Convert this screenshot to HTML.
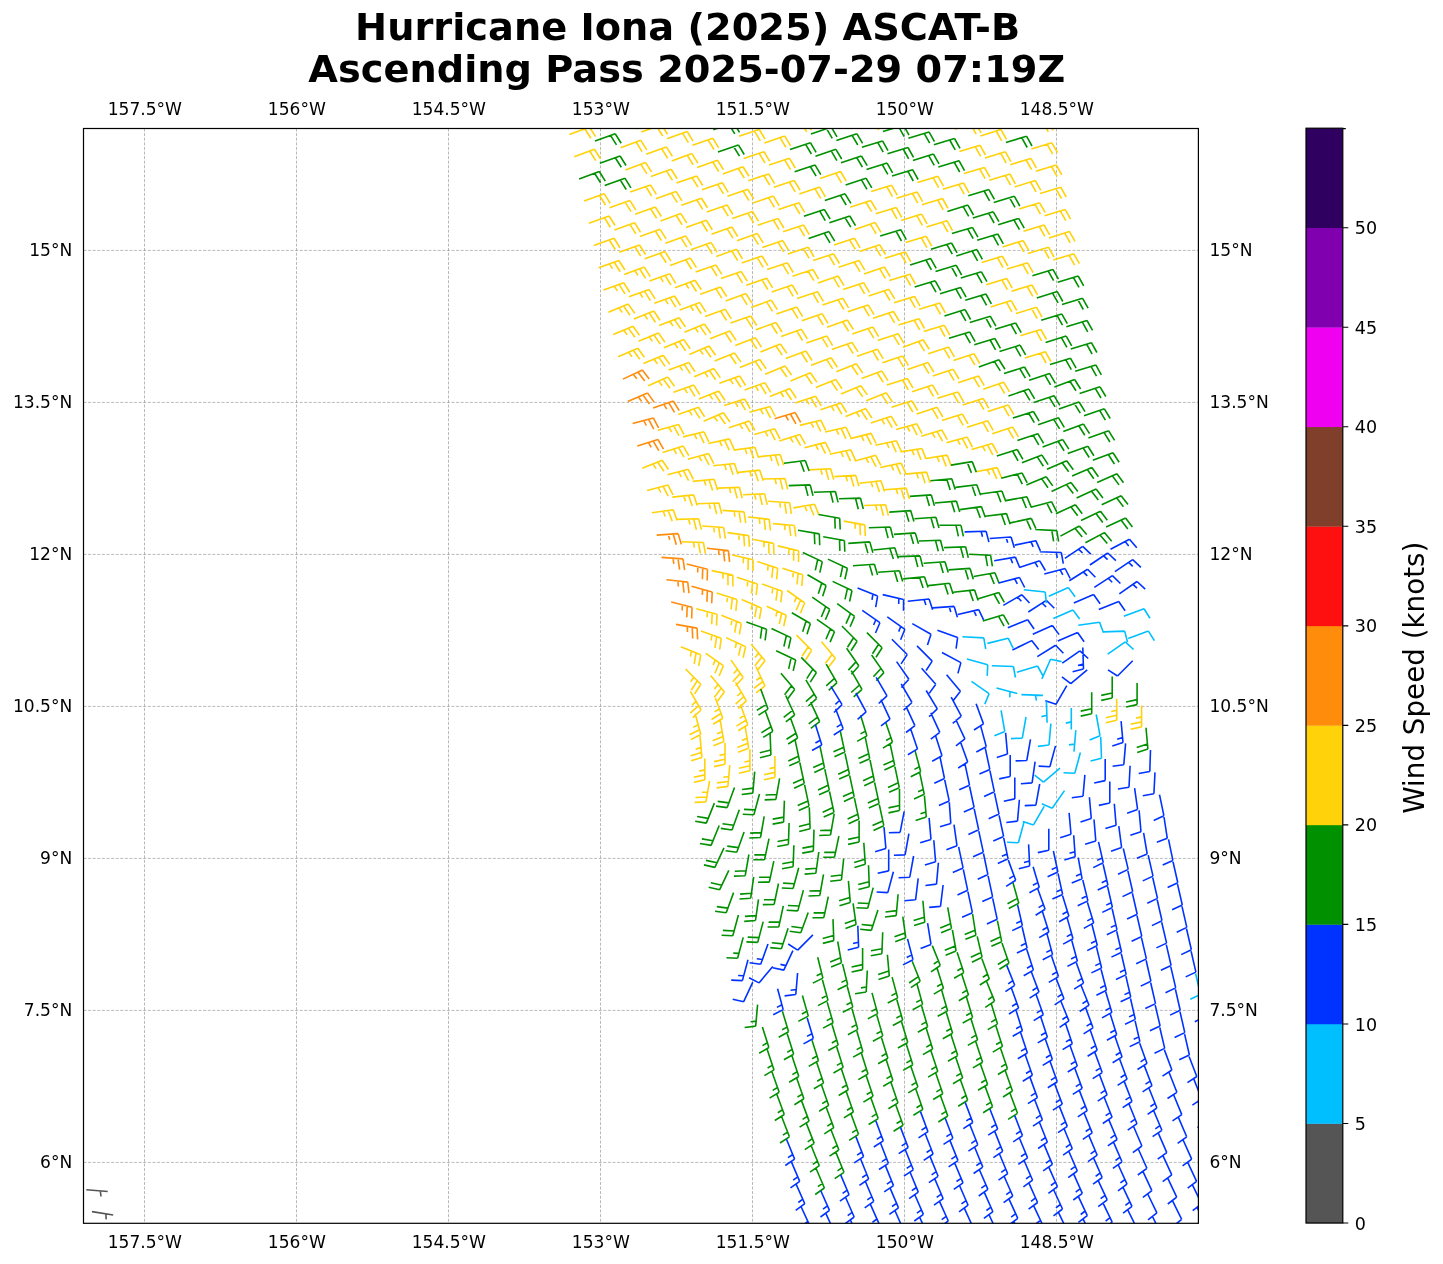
<!DOCTYPE html>
<html><head><meta charset="utf-8"><title>Hurricane Iona (2025) ASCAT-B</title>
<style>html,body{margin:0;padding:0;background:#fff;width:1443px;height:1264px;overflow:hidden}svg{display:block}</style>
</head><body>
<svg width="1443" height="1264" viewBox="0 0 1443 1264">
<rect width="1443" height="1264" fill="#fff"/>
<text transform="translate(687.6 39.96) scale(1.033 1)" font-family="'DejaVu Sans','Liberation Sans',sans-serif" font-weight="bold" font-size="37.1" text-anchor="middle" fill="#000">Hurricane Iona (2025) ASCAT-B</text>
<text transform="translate(686.8 81.85) scale(1.033 1)" font-family="'DejaVu Sans','Liberation Sans',sans-serif" font-weight="bold" font-size="37.1" text-anchor="middle" fill="#000">Ascending Pass 2025-07-29 07:19Z</text>
<defs><clipPath id="ax"><rect x="83.5" y="128.5" width="1114.9" height="1094.8"/></clipPath></defs>
<path d="M144.50 128.5V1223.3M296.50 128.5V1223.3M448.50 128.5V1223.3M600.50 128.5V1223.3M752.50 128.5V1223.3M904.50 128.5V1223.3M1056.50 128.5V1223.3M83.5 250.40H1198.4M83.5 402.40H1198.4M83.5 554.40H1198.4M83.5 706.40H1198.4M83.5 858.40H1198.4M83.5 1010.40H1198.4M83.5 1162.40H1198.4" stroke="#7a7a7a" stroke-opacity="0.7" stroke-width="0.75" stroke-dasharray="3 1.6" fill="none"/>
<g clip-path="url(#ax)" fill="none" stroke-width="1.6" stroke-linejoin="miter" stroke-linecap="butt">
<path stroke="#ffd20a" d="M1022.6 104.7L1043.2 98.4M1043.2 98.4L1048.7 108.3M1038.4 99.9L1043.9 109.7M925.0 100.5L945.5 94.2M945.5 94.2L951.0 104.0M940.7 95.6L946.2 105.4M950.5 107.1L971.1 100.8M971.1 100.8L976.6 110.6M966.3 102.2L971.8 112.1M976.0 113.7L996.6 107.4M996.6 107.4L1002.1 117.2M991.8 108.9L997.3 118.7M1001.5 120.3L1022.1 114.0M1022.1 114.0L1027.6 123.8M1017.3 115.5L1022.8 125.3M1027.0 126.9L1047.6 120.6M1047.6 120.6L1053.1 130.4M1042.8 122.1L1048.3 131.9M852.8 102.8L873.4 96.5M873.4 96.5L878.9 106.3M868.6 98.0L874.1 107.8M878.4 109.4L898.9 103.1M898.9 103.1L904.4 112.9M894.1 104.6L899.7 114.4M903.9 116.0L924.5 109.7M924.5 109.7L930.0 119.6M919.7 111.2L925.2 121.0M929.4 122.6L950.0 116.4M950.0 116.4L955.5 126.2M945.2 117.8L950.7 127.6M955.0 129.3L975.5 123.0M975.5 123.0L981.0 132.8M970.7 124.4L976.2 134.2M980.4 135.9L1001.0 129.6M1001.0 129.6L1006.5 139.4M996.2 131.0L1001.7 140.9M1031.4 149.1L1051.9 142.8M1051.9 142.8L1057.5 152.6M1047.2 144.3L1052.7 154.1M780.7 105.1L801.1 98.3M801.1 98.3L806.8 108.0M796.3 99.9L802.1 109.6M806.3 111.8L826.7 104.9M826.7 104.9L832.4 114.6M821.9 106.5L827.7 116.2M831.8 118.4L852.2 111.6M852.2 111.6L858.0 121.2M847.5 113.1L853.2 122.8M857.4 125.0L877.9 118.7M877.9 118.7L883.4 128.5M873.2 120.2L878.7 130.0M959.4 151.4L980.0 145.2M980.0 145.2L985.5 155.0M975.2 146.6L980.7 156.4M984.9 158.1L1005.4 151.8M1005.4 151.8L1010.9 161.6M1000.7 153.2L1006.2 163.1M1010.3 164.7L1030.9 158.4M1030.9 158.4L1036.4 168.2M1026.1 159.8L1031.6 169.7M1035.8 171.3L1056.3 165.0M1056.3 165.0L1061.8 174.8M1051.5 166.5L1057.1 176.3M683.0 100.9L703.2 93.7M703.2 93.7L709.2 103.2M698.5 95.3L704.5 104.9M708.6 107.5L728.8 100.1M728.8 100.1L734.8 109.7M724.1 101.9L730.1 111.4M734.2 114.1L754.6 107.3M754.6 107.3L760.3 117.0M749.8 108.9L755.6 118.5M759.8 120.7L780.2 113.9M780.2 113.9L785.9 123.6M775.4 115.5L781.2 125.2M785.3 127.3L805.7 120.5M805.7 120.5L811.5 130.2M801.0 122.1L806.7 131.8M963.9 173.6L984.4 167.4M984.4 167.4L989.9 177.2M979.6 168.8L985.2 178.6M989.3 180.3L1009.9 174.0M1009.9 174.0L1015.4 183.8M1005.1 175.4L1010.6 185.2M1014.7 186.9L1035.3 180.6M1035.3 180.6L1040.8 190.4M1030.5 182.0L1036.0 191.9M1040.1 193.5L1060.7 187.2M1060.7 187.2L1066.2 197.0M1055.9 188.7L1061.4 198.5M610.8 103.2L631.1 96.0M631.1 96.0L637.1 105.5M626.4 97.7L632.4 107.2M636.5 109.9L656.7 102.5M656.7 102.5L662.7 112.1M652.0 104.2L658.0 113.8M662.1 116.5L682.4 109.3M682.4 109.3L688.3 118.8M677.7 111.0L683.6 120.5M687.7 123.1L708.0 116.0M708.0 116.0L713.9 125.6M703.3 117.7L709.2 127.2M738.9 136.3L759.3 129.5M759.3 129.5L765.0 139.2M754.5 131.1L760.3 140.8M764.4 142.9L784.8 136.1M784.8 136.1L790.6 145.8M780.1 137.7L785.9 147.4M917.5 182.6L938.0 176.3M938.0 176.3L943.5 186.1M933.2 177.8L938.7 187.6M942.9 189.2L963.5 182.9M963.5 182.9L969.0 192.8M958.7 184.4L964.2 194.2M1019.1 209.1L1039.7 202.8M1039.7 202.8L1045.2 212.6M1034.9 204.2L1040.4 214.1M1044.5 215.7L1065.1 209.4M1065.1 209.4L1070.6 219.2M1060.3 210.9L1065.8 220.7M564.4 112.2L584.6 104.9M584.6 104.9L590.6 114.4M579.9 106.6L585.9 116.1M590.1 118.8L610.3 111.6M610.3 111.6L616.3 121.1M605.6 113.2L611.6 122.8M615.7 125.5L635.9 118.2M635.9 118.2L641.9 127.7M631.2 119.9L637.2 129.4M641.3 132.1L661.5 124.8M661.5 124.8L667.5 134.3M656.8 126.5L662.8 136.0M666.9 138.7L687.2 131.5M687.2 131.5L693.1 141.1M682.5 133.2L688.4 142.7M692.5 145.3L712.8 138.2M712.8 138.2L718.7 147.8M708.1 139.9L714.0 149.5M743.6 158.5L764.0 151.7M764.0 151.7L769.8 161.4M759.2 153.3L765.0 163.0M769.1 165.1L789.5 158.3M789.5 158.3L795.3 168.0M784.8 159.9L790.5 169.6M820.1 178.4L840.5 171.5M840.5 171.5L846.3 181.2M835.8 173.1L841.5 182.8M871.1 191.6L891.6 185.3M891.6 185.3L897.2 195.1M886.9 186.8L892.4 196.6M896.5 198.2L917.1 191.9M917.1 191.9L922.6 201.7M912.3 193.4L917.8 203.2M922.0 204.8L942.5 198.5M942.5 198.5L948.0 208.4M937.7 200.0L943.3 209.8M1023.5 231.3L1044.1 225.0M1044.1 225.0L1049.6 234.8M1039.3 226.5L1044.8 236.3M1048.9 237.9L1069.5 231.6M1069.5 231.6L1075.0 241.4M1064.7 233.1L1070.2 242.9M569.3 134.4L589.5 127.1M589.5 127.1L595.6 136.6M584.8 128.8L590.9 138.3M620.6 147.7L640.8 140.3M640.8 140.3L646.8 149.9M636.1 142.0L642.1 151.6M646.1 154.3L666.3 146.9M666.3 146.9L672.4 156.4M661.6 148.6L667.7 158.2M671.7 160.9L691.9 153.6M691.9 153.6L697.9 163.1M687.2 155.3L693.2 164.8M697.2 167.5L717.5 160.3M717.5 160.3L723.5 169.8M712.8 162.0L718.7 171.5M722.8 174.1L743.0 166.8M743.0 166.8L749.0 176.3M738.3 168.5L744.3 178.0M748.3 180.7L768.7 173.9M768.7 173.9L774.5 183.6M763.9 175.5L769.7 185.2M773.8 187.3L794.2 180.5M794.2 180.5L800.0 190.2M789.4 182.1L795.2 191.8M799.3 194.0L819.7 187.1M819.7 187.1L825.4 196.8M814.9 188.7L820.7 198.4M850.2 207.2L870.6 200.4M870.6 200.4L876.4 210.0M865.9 202.0L871.6 211.6M875.6 213.8L896.2 207.5M896.2 207.5L901.7 217.3M891.4 209.0L896.9 218.8M901.1 220.4L921.6 214.1M921.6 214.1L927.1 223.9M916.8 215.6L922.4 225.4M926.5 227.0L947.0 220.7M947.0 220.7L952.5 230.6M942.3 222.2L947.8 232.0M1002.6 246.9L1023.2 240.6M1023.2 240.6L1028.7 250.4M1018.4 242.0L1023.9 251.9M1027.9 253.5L1048.5 247.2M1048.5 247.2L1054.0 257.0M1043.7 248.7L1049.2 258.5M1053.3 260.1L1073.8 253.8M1073.8 253.8L1079.4 263.6M1069.1 255.3L1074.6 265.1M574.2 156.7L594.4 149.3M594.4 149.3L600.5 158.8M589.7 151.0L595.8 160.6M625.4 169.9L645.6 162.6M645.6 162.6L651.6 172.2M640.9 164.3L646.9 173.9M650.9 176.5L671.2 169.2M671.2 169.2L677.2 178.7M666.5 170.9L672.5 180.4M676.5 183.1L696.7 175.9M696.7 175.9L702.7 185.5M692.0 177.6L698.0 187.2M702.0 189.7L722.3 182.7M722.3 182.7L728.2 192.3M717.6 184.3L723.5 193.9M727.5 196.3L747.8 189.3M747.8 189.3L753.7 198.9M743.1 191.0L749.0 200.6M753.0 203.0L773.4 196.1M773.4 196.1L779.2 205.8M768.6 197.7L774.4 207.4M778.5 209.6L798.9 202.7M798.9 202.7L804.6 212.4M794.1 204.3L799.9 214.0M854.8 229.4L875.2 222.6M875.2 222.6L881.0 232.3M870.4 224.2L876.2 233.8M905.6 242.6L926.2 236.3M926.2 236.3L931.7 246.2M921.4 237.8L926.9 247.6M981.7 262.5L1002.3 256.2M1002.3 256.2L1007.8 266.0M997.5 257.7L1003.0 267.5M1007.0 269.1L1027.6 262.8M1027.6 262.8L1033.1 272.6M1022.8 264.3L1028.3 274.1M630.2 192.1L650.5 184.9M650.5 184.9L656.4 194.4M645.8 186.5L651.7 196.1M655.8 198.7L676.0 191.4M676.0 191.4L682.0 200.9M671.3 193.1L677.3 202.6M681.3 205.3L701.5 198.2M701.5 198.2L707.5 207.7M696.8 199.8L702.7 209.4M706.8 211.9L727.1 204.9M727.1 204.9L732.9 214.5M722.3 206.5L728.2 216.1M732.2 218.6L752.6 211.6M752.6 211.6L758.4 221.2M747.8 213.2L753.7 222.8M757.7 225.2L778.1 218.4M778.1 218.4L783.8 228.0M773.3 219.9L779.1 229.6M783.1 231.8L803.5 225.0M803.5 225.0L809.3 234.6M798.8 226.6L804.6 236.2M834.0 245.0L854.4 238.2M854.4 238.2L860.1 247.9M849.6 239.8L855.4 249.4M859.4 251.6L879.8 244.8M879.8 244.8L885.5 254.5M875.0 246.4L880.8 256.1M884.8 258.2L905.3 252.0M905.3 252.0L910.8 261.8M900.5 253.4L906.1 263.2M986.2 284.7L1006.7 278.4M1006.7 278.4L1012.2 288.2M1001.9 279.9L1007.4 289.7M1011.5 291.3L1032.0 285.0M1032.0 285.0L1037.5 294.8M1027.2 286.5L1032.8 296.3M584.0 201.1L604.2 193.7M604.2 193.7L610.2 203.3M599.5 195.5L605.5 205.0M609.5 207.7L629.8 200.4M629.8 200.4L635.8 209.9M625.1 202.1L631.1 211.6M635.1 214.3L655.3 207.0M655.3 207.0L661.3 216.5M650.6 208.7L656.6 218.2M660.6 220.9L680.8 213.6M680.8 213.6L686.8 223.1M676.1 215.3L682.1 224.8M686.0 227.6L706.3 220.3M706.3 220.3L712.3 229.8M701.6 222.0L707.5 231.5M711.5 234.2L731.8 227.0M731.8 227.0L737.7 236.5M727.0 228.6L733.0 238.2M737.0 240.8L757.2 233.4M757.2 233.4L763.2 242.9M752.5 235.1L758.5 244.7M762.4 247.4L782.8 240.6M782.8 240.6L788.5 250.2M778.0 242.2L783.8 251.8M787.8 254.0L808.2 247.2M808.2 247.2L814.0 256.9M803.5 248.8L809.2 258.4M813.2 260.6L833.6 253.8M833.6 253.8L839.4 263.5M828.9 255.4L834.6 265.1M838.6 267.2L859.0 260.4M859.0 260.4L864.8 270.1M854.2 262.0L860.0 271.7M864.0 273.9L884.4 267.0M884.4 267.0L890.1 276.7M879.6 268.6L885.4 278.3M889.3 280.5L909.9 274.2M909.9 274.2L915.4 284.0M905.1 275.6L910.6 285.5M990.6 306.9L1011.2 300.6M1011.2 300.6L1016.7 310.5M1006.4 302.1L1011.9 311.9M1015.9 313.5L1036.5 307.3M1036.5 307.3L1042.0 317.1M1031.7 308.7L1037.2 318.5M588.9 223.3L609.1 216.0M609.1 216.0L615.1 225.5M604.4 217.7L610.4 227.2M614.4 229.9L634.6 222.7M634.6 222.7L640.6 232.3M629.9 224.4L635.9 233.9M639.9 236.6L660.1 229.3M660.1 229.3L666.1 238.9M655.4 231.0L661.4 240.6M665.4 243.2L685.6 235.9M685.6 235.9L691.6 245.4M680.9 237.6L686.9 247.1M690.8 249.8L711.1 242.6M711.1 242.6L717.0 252.2M706.4 244.3L712.3 253.9M716.2 256.4L736.6 249.3M736.6 249.3L742.4 258.9M731.8 251.0L737.7 260.6M741.7 263.0L762.0 256.0M762.0 256.0L767.8 265.6M757.3 257.6L763.1 267.3M767.1 269.6L787.5 262.8M787.5 262.8L793.2 272.5M782.7 264.4L788.5 274.1M792.5 276.2L812.9 269.4M812.9 269.4L818.6 279.1M808.1 271.0L813.9 280.7M817.8 282.9L838.2 276.0M838.2 276.0L844.0 285.7M833.5 277.6L839.3 287.3M843.2 289.5L863.6 282.7M863.6 282.7L869.4 292.3M858.9 284.2L864.6 293.9M868.6 296.1L888.9 289.3M888.9 289.3L894.7 298.9M884.2 290.9L890.0 300.5M893.9 302.7L914.5 296.4M914.5 296.4L920.0 306.2M909.7 297.9L915.2 307.7M919.2 309.3L939.8 303.0M939.8 303.0L945.3 312.8M935.0 304.5L940.5 314.3M1020.3 335.8L1040.9 329.5M1040.9 329.5L1046.4 339.3M1036.1 330.9L1041.6 340.8M593.8 245.6L614.0 238.3M614.0 238.3L620.0 247.8M609.3 240.0L615.3 249.5M619.2 252.2L639.5 245.0M639.5 245.0L645.5 254.5M634.8 246.6L640.7 256.2M644.7 258.8L665.0 251.6M665.0 251.6L670.9 261.1M660.2 253.3L666.2 262.8M670.1 265.4L690.4 258.1M690.4 258.1L696.4 267.6M685.7 259.8L691.7 269.3M695.6 272.0L715.8 264.9M715.8 264.9L721.8 274.4M711.1 266.5L717.1 276.1M721.0 278.6L741.3 271.6M741.3 271.6L747.2 281.2M736.6 273.2L742.5 282.8M746.4 285.3L766.7 278.2M766.7 278.2L772.6 287.8M762.0 279.9L767.8 289.5M771.8 291.9L792.2 285.0M792.2 285.0L797.9 294.7M787.4 286.6L793.2 296.3M797.1 298.5L817.5 291.7M817.5 291.7L823.3 301.3M812.8 293.2L818.5 302.9M822.5 305.1L842.9 298.3M842.9 298.3L848.6 307.9M838.1 299.9L843.9 309.5M847.8 311.7L868.2 304.9M868.2 304.9L874.0 314.6M863.5 306.5L869.2 316.1M873.1 318.3L893.5 311.5M893.5 311.5L899.3 321.2M888.8 313.1L894.6 322.8M898.5 324.9L919.0 318.7M919.0 318.7L924.5 328.5M914.2 320.1L919.7 329.9M923.7 331.6L944.3 325.3M944.3 325.3L949.8 335.1M939.5 326.7L945.0 336.5M1024.8 358.0L1045.3 351.7M1045.3 351.7L1050.9 361.5M1040.6 353.2L1046.1 363.0M598.6 267.8L618.9 260.5M618.9 260.5L624.9 270.0M614.2 262.2L620.2 271.7M609.5 263.9L612.5 268.6M624.1 274.4L644.3 267.1M644.3 267.1L650.3 276.6M639.6 268.8L645.6 278.3M634.9 270.5L637.9 275.3M649.5 281.0L669.7 273.7M669.7 273.7L675.7 283.3M665.0 275.4L671.0 285.0M660.3 277.1L663.3 281.9M674.9 287.7L695.1 280.3M695.1 280.3L701.2 289.8M690.4 282.0L696.5 291.5M685.7 283.7L688.8 288.5M700.3 294.3L720.6 287.0M720.6 287.0L726.6 296.5M715.9 288.7L721.8 298.2M725.7 300.9L746.0 293.6M746.0 293.6L751.9 303.2M741.3 295.3L747.2 304.9M751.1 307.5L771.3 300.1M771.3 300.1L777.3 309.7M766.6 301.9L772.6 311.4M776.4 314.1L796.8 307.1M796.8 307.1L802.6 316.7M792.0 308.7L797.9 318.3M801.8 320.7L822.1 313.7M822.1 313.7L828.0 323.3M817.4 315.4L823.2 325.0M827.1 327.3L847.3 320.0M847.3 320.0L853.3 329.5M842.6 321.7L848.6 331.2M852.4 334.0L872.8 327.0M872.8 327.0L878.6 336.6M868.0 328.6L873.9 338.2M877.7 340.6L898.1 333.7M898.1 333.7L903.9 343.3M893.4 335.3L899.2 344.9M903.0 347.2L923.2 339.8M923.2 339.8L929.2 349.3M918.5 341.5L924.5 351.1M928.3 353.8L948.7 347.1M948.7 347.1L954.4 356.8M944.0 348.7L949.7 358.4M953.5 360.4L974.0 353.7M974.0 353.7L979.7 363.5M969.2 355.3L974.9 365.0M603.5 290.1L623.7 282.7M623.7 282.7L629.7 292.2M619.0 284.4L625.0 293.9M614.3 286.1L617.3 290.9M628.9 296.7L649.1 289.4M649.1 289.4L655.1 298.9M644.4 291.1L650.4 300.6M639.7 292.8L642.7 297.5M654.3 303.3L674.6 296.0M674.6 296.0L680.5 305.5M669.9 297.7L675.8 307.2M665.2 299.4L668.1 304.2M679.7 309.9L699.9 302.6M699.9 302.6L705.9 312.1M695.2 304.3L701.2 313.8M690.5 306.0L693.5 310.7M705.1 316.5L725.3 309.3M725.3 309.3L731.3 318.9M720.6 311.0L726.6 320.5M730.5 323.1L750.7 316.0M750.7 316.0L756.7 325.5M746.0 317.6L751.9 327.2M755.8 329.7L776.0 322.5M776.0 322.5L782.0 332.0M771.3 324.2L777.3 333.7M781.1 336.4L801.4 329.3M801.4 329.3L807.3 338.9M796.7 330.9L802.6 340.5M806.4 343.0L826.8 335.9M826.8 335.9L832.6 345.6M822.0 337.6L827.9 347.2M831.8 349.6L852.0 342.4M852.0 342.4L858.0 351.9M847.3 344.1L853.2 353.6M857.0 356.2L877.4 349.2M877.4 349.2L883.2 358.9M872.7 350.9L878.5 360.5M882.3 362.8L902.7 356.0M902.7 356.0L908.5 365.6M898.0 357.6L903.7 367.2M907.6 369.4L927.9 362.4M927.9 362.4L933.8 372.0M923.2 364.0L929.0 373.6M932.8 376.0L953.2 369.3M953.2 369.3L959.0 379.0M948.5 370.9L954.2 380.6M958.1 382.7L978.5 375.9M978.5 375.9L984.2 385.6M973.7 377.5L979.4 387.2M983.3 389.3L1003.6 382.2M1003.6 382.2L1009.5 391.8M998.9 383.9L1004.7 393.5M608.4 312.3L628.2 304.1M628.2 304.1L634.7 313.3M623.6 306.0L630.0 315.2M619.0 307.9L622.2 312.5M633.8 318.9L653.8 311.0M653.8 311.0L660.0 320.3M649.1 312.8L655.4 322.2M644.5 314.7L647.6 319.4M659.1 325.5L679.2 317.7M679.2 317.7L685.4 327.0M674.5 319.5L680.8 328.9M669.8 321.3L673.0 326.0M684.5 332.2L704.4 324.0M704.4 324.0L710.8 333.2M699.8 325.9L706.2 335.1M695.1 327.8L698.3 332.4M709.9 338.8L729.9 331.0M729.9 331.0L736.1 340.4M725.2 332.8L731.4 342.2M735.2 345.4L755.3 337.7M755.3 337.7L761.4 347.1M750.6 339.5L756.8 348.9M760.5 352.0L780.4 343.9M780.4 343.9L786.8 353.2M775.8 345.8L782.2 355.1M785.8 358.6L805.9 351.0M805.9 351.0L812.1 360.5M801.3 352.8L807.4 362.2M811.1 365.2L831.2 357.7M831.2 357.7L837.3 367.2M826.6 359.4L832.7 368.9M836.4 371.8L856.3 363.8M856.3 363.8L862.7 373.1M851.7 365.7L858.0 375.0M861.6 378.5L881.9 371.1M881.9 371.1L887.9 380.6M877.2 372.8L883.2 382.3M886.9 385.1L907.4 378.5M907.4 378.5L913.0 388.2M902.6 380.0L908.3 389.8M912.1 391.7L932.6 385.1M932.6 385.1L938.3 394.8M927.8 386.6L933.5 396.4M937.4 398.3L957.9 391.9M957.9 391.9L963.5 401.6M953.1 393.4L958.7 403.1M962.6 404.9L983.1 398.4M983.1 398.4L988.7 408.2M978.3 399.9L983.9 409.7M987.8 411.5L1008.2 404.9M1008.2 404.9L1013.9 414.6M1003.5 406.4L1009.1 416.2M613.2 334.6L633.0 326.2M633.0 326.2L639.5 335.4M628.4 328.1L634.9 337.3M623.8 330.1L627.1 334.7M638.6 341.2L658.4 332.9M658.4 332.9L664.9 342.2M653.8 334.8L660.3 344.1M649.2 336.8L652.4 341.4M663.9 347.8L683.8 339.6M683.8 339.6L690.2 348.8M679.2 341.5L685.6 350.7M674.6 343.4L677.8 348.0M689.3 354.4L709.1 346.0M709.1 346.0L715.6 355.2M704.5 348.0L711.0 357.2M699.9 349.9L703.1 354.5M714.6 361.0L734.5 352.9M734.5 352.9L740.9 362.1M729.9 354.8L736.3 364.0M739.9 367.6L759.8 359.5M759.8 359.5L766.2 368.8M755.2 361.4L761.6 370.7M765.2 374.3L785.0 365.9M785.0 365.9L791.5 375.0M780.4 367.8L786.9 377.0M790.5 380.9L810.4 372.8M810.4 372.8L816.8 382.1M805.8 374.7L812.1 384.0M815.8 387.5L835.7 379.4M835.7 379.4L842.0 388.7M831.1 381.3L837.4 390.6M841.0 394.1L860.8 385.7M860.8 385.7L867.3 394.9M856.2 387.6L862.7 396.8M866.3 400.7L886.2 392.8M886.2 392.8L892.5 402.1M881.6 394.6L887.9 403.9M891.5 407.3L912.0 400.8M912.0 400.8L917.6 410.5M907.2 402.3L912.8 412.0M916.7 413.9L937.1 407.3M937.1 407.3L942.8 417.0M932.4 408.8L938.1 418.6M941.9 420.5L962.4 414.1M962.4 414.1L968.0 423.8M957.6 415.6L963.2 425.3M967.1 427.2L987.6 420.7M987.6 420.7L993.2 430.4M982.8 422.2L988.4 431.9M992.3 433.8L1012.7 427.1M1012.7 427.1L1018.4 436.9M1007.9 428.7L1013.6 438.4M618.1 356.8L637.8 348.2M637.8 348.2L644.4 357.3M633.2 350.2L639.8 359.3M628.6 352.2L631.9 356.8M643.4 363.4L663.3 355.2M663.3 355.2L669.7 364.4M658.7 357.1L665.1 366.4M654.0 359.0L657.3 363.7M668.7 370.1L688.8 362.4M688.8 362.4L695.0 371.8M684.1 364.1L690.3 373.6M679.5 365.9L682.6 370.6M694.1 376.7L714.0 368.6M714.0 368.6L720.3 377.9M709.3 370.5L715.7 379.8M704.7 372.4L707.9 377.0M719.4 383.3L739.6 375.9M739.6 375.9L745.6 385.5M734.9 377.7L740.9 387.2M730.2 379.4L733.2 384.1M744.6 389.9L764.9 382.7M764.9 382.7L770.8 392.3M760.2 384.4L766.1 394.0M755.5 386.1L758.4 390.9M769.9 396.5L789.9 388.6M789.9 388.6L796.2 398.0M785.3 390.5L791.5 399.8M780.6 392.3L783.7 397.0M795.2 403.1L815.5 396.2M815.5 396.2L821.3 405.8M810.8 397.8L816.6 407.4M806.0 399.4L809.0 404.2M820.4 409.7L840.8 402.9M840.8 402.9L846.6 412.5M836.1 404.5L841.8 414.1M831.3 406.1L834.2 410.9M845.6 416.4L865.7 408.6M865.7 408.6L871.9 418.0M861.0 410.4L867.2 419.8M856.4 412.2L859.5 416.9M870.9 423.0L891.3 416.3M891.3 416.3L897.0 426.0M886.5 417.9L892.2 427.6M881.8 419.4L884.6 424.3M896.1 429.6L916.8 423.8M916.8 423.8L922.0 433.7M912.0 425.1L917.2 435.1M907.1 426.5L909.8 431.5M921.3 436.2L941.8 429.9M941.8 429.9L947.3 439.7M937.0 431.4L942.5 441.2M932.3 432.8L935.0 437.7M946.4 442.8L967.2 437.1M967.2 437.1L972.4 447.1M962.3 438.4L967.6 448.4M957.5 439.8L960.1 444.7M971.6 449.4L992.3 443.5M992.3 443.5L997.6 453.4M987.5 444.9L992.8 454.8M982.7 446.3L985.3 451.2M648.2 385.7L667.9 377.1M667.9 377.1L674.5 386.2M663.4 379.1L670.0 388.2M658.8 381.1L662.1 385.7M673.5 392.3L693.8 385.1M693.8 385.1L699.7 394.6M689.1 386.8L695.0 396.3M684.4 388.4L687.3 393.2M698.8 398.9L718.8 391.1M718.8 391.1L725.1 400.5M714.2 392.9L720.4 402.3M709.5 394.8L712.7 399.4M724.1 405.6L744.6 399.0M744.6 399.0L750.2 408.7M739.8 400.5L745.5 410.2M735.0 402.0L737.9 406.9M749.4 412.2L770.1 406.5M770.1 406.5L775.3 416.5M765.3 407.9L770.5 417.8M760.5 409.2L763.1 414.2M799.8 425.4L820.7 420.2M820.7 420.2L825.7 430.3M815.9 421.4L820.8 431.5M811.0 422.6L813.5 427.7M825.1 432.0L846.0 427.3M846.0 427.3L850.8 437.5M841.2 428.4L845.9 438.6M836.3 429.5L838.7 434.6M850.3 438.6L871.1 433.4M871.1 433.4L876.1 443.5M866.3 434.6L871.3 444.7M861.4 435.8L863.9 440.9M875.5 445.2L896.5 440.8M896.5 440.8L901.1 451.0M891.6 441.8L896.2 452.1M886.7 442.8L889.0 448.0M900.6 451.9L921.9 448.5M921.9 448.5L926.0 458.9M916.9 449.2L921.0 459.7M912.0 450.0L914.1 455.3M925.8 458.5L947.1 455.1M947.1 455.1L951.1 465.6M942.1 455.9L946.2 466.4M937.2 456.7L939.2 461.9M976.1 471.7L997.2 467.6M997.2 467.6L1001.7 478.0M992.3 468.6L996.8 478.9M987.4 469.5L989.6 474.7M678.3 414.6L698.5 407.2M698.5 407.2L704.6 416.7M693.8 408.9L699.9 418.4M689.1 410.6L692.1 415.4M703.6 421.2L723.4 412.8M723.4 412.8L729.9 422.0M718.8 414.8L725.3 424.0M714.2 416.7L717.4 421.3M728.8 427.8L749.2 420.9M749.2 420.9L755.0 430.5M744.5 422.5L750.3 432.1M739.7 424.1L742.6 428.9M754.1 434.4L774.8 428.8M774.8 428.8L780.0 438.8M770.0 430.1L775.2 440.1M765.2 431.4L767.8 436.4M779.3 441.1L799.8 434.4M799.8 434.4L805.4 444.1M795.0 436.0L800.7 445.7M790.2 437.5L793.1 442.4M804.5 447.7L825.4 442.4M825.4 442.4L830.4 452.5M820.5 443.7L825.5 453.7M815.7 444.9L818.2 449.9M829.7 454.3L850.8 449.8M850.8 449.8L855.4 460.1M845.9 450.9L850.5 461.1M841.0 451.9L843.3 457.0M854.9 460.9L875.7 455.3M875.7 455.3L880.8 465.3M870.8 456.6L876.0 466.6M866.0 457.9L868.6 462.9M880.1 467.5L901.1 463.1M901.1 463.1L905.7 473.4M896.2 464.1L900.8 474.4M891.3 465.2L893.6 470.3M905.2 474.1L926.6 472.1M926.6 472.1L930.1 482.8M921.7 472.6L925.1 483.3M916.7 473.0L918.4 478.4M657.9 430.3L678.6 424.4M678.6 424.4L683.9 434.3M673.7 425.8L679.0 435.7M668.9 427.1L671.6 432.1M683.1 436.9L704.0 431.8M704.0 431.8L708.9 442.0M699.2 433.0L704.1 443.1M694.3 434.2L696.8 439.2M708.4 443.5L729.4 438.9M729.4 438.9L734.1 449.1M724.5 440.0L729.2 450.2M719.6 441.0L721.9 446.1M733.6 450.1L754.9 447.3M754.9 447.3L758.7 457.9M750.0 448.0L753.7 458.6M745.0 448.6L746.9 453.9M758.8 456.7L780.2 454.5M780.2 454.5L783.7 465.2M775.2 455.0L778.7 465.7M770.2 455.5L772.0 460.9M809.2 469.9L830.7 468.7M830.7 468.7L833.7 479.6M825.7 469.0L828.7 479.9M820.7 469.3L822.2 474.7M834.4 476.6L855.8 475.4M855.8 475.4L858.8 486.3M850.8 475.7L853.8 486.6M845.9 476.0L847.3 481.4M859.5 483.2L880.9 480.8M880.9 480.8L884.5 491.5M875.9 481.4L879.5 492.0M871.0 481.9L872.8 487.2M884.7 489.8L906.1 488.1M906.1 488.1L909.4 498.9M901.1 488.5L904.4 499.3M896.1 488.9L897.8 494.3M662.7 452.5L683.1 445.9M683.1 445.9L688.8 455.6M678.4 447.4L684.0 457.2M673.6 449.0L676.5 453.9M687.9 459.2L708.7 453.6M708.7 453.6L713.8 463.6M703.8 454.9L709.0 464.9M699.0 456.2L701.6 461.2M713.1 465.8L734.5 463.5M734.5 463.5L738.0 474.2M729.5 464.0L733.1 474.7M724.6 464.6L726.3 469.9M738.3 472.4L759.7 470.1M759.7 470.1L763.2 480.8M754.7 470.7L758.3 481.3M749.8 471.2L751.5 476.5M763.5 479.0L785.0 478.5M785.0 478.5L787.7 489.4M780.0 478.6L782.7 489.5M775.0 478.7L776.3 484.2M864.2 505.5L885.6 504.7M885.6 504.7L888.4 515.6M880.7 504.9L883.4 515.8M875.7 505.1L877.0 510.5M642.3 468.2L662.2 460.2M662.2 460.2L668.5 469.5M657.6 462.0L663.9 471.3M652.9 463.9L656.1 468.6M667.5 474.8L688.2 469.3M688.2 469.3L693.4 479.3M683.4 470.6L688.6 480.6M678.6 471.9L681.2 476.9M692.7 481.4L714.1 479.2M714.1 479.2L717.6 489.9M709.1 479.7L712.6 490.4M704.1 480.2L705.9 485.6M717.9 488.1L739.4 487.3M739.4 487.3L742.2 498.2M734.4 487.5L737.2 498.4M729.4 487.7L730.8 493.1M743.1 494.7L764.6 493.9M764.6 493.9L767.3 504.8M759.6 494.1L762.3 505.0M754.6 494.3L755.9 499.7M768.2 501.3L789.7 502.8M789.7 502.8L791.3 513.9M784.7 502.4L786.3 513.6M779.7 502.1L780.5 507.7M793.4 507.9L814.6 504.2M814.6 504.2L818.8 514.6M809.6 505.0L813.9 515.5M804.7 505.9L806.9 511.1M843.7 521.1L864.8 524.9M864.8 524.9L865.3 536.1M859.9 524.0L860.4 535.2M855.0 523.1L855.2 528.8M647.1 490.5L667.9 484.9M667.9 484.9L673.0 494.9M663.0 486.2L668.2 496.2M658.2 487.5L660.8 492.5M672.3 497.1L693.7 494.9M693.7 494.9L697.2 505.6M688.7 495.4L692.2 506.1M683.7 495.9L685.5 501.3M697.5 503.7L719.0 503.0M719.0 503.0L721.7 513.9M714.0 503.2L716.7 514.1M709.0 503.3L710.4 508.8M722.6 510.4L744.1 511.9M744.1 511.9L745.7 523.0M739.1 511.5L740.7 522.6M734.1 511.2L734.9 516.7M747.8 517.0L769.2 519.2M769.2 519.2L770.4 530.4M764.2 518.7L765.4 529.9M759.2 518.2L759.9 523.8M772.9 523.6L794.4 525.5M794.4 525.5L795.8 536.6M789.4 525.0L790.8 536.2M784.4 524.6L785.1 530.2M651.9 512.8L673.2 509.8M673.2 509.8L677.1 520.4M668.2 510.5L672.2 521.1M663.3 511.2L665.2 516.5M677.1 519.4L698.6 518.7M698.6 518.7L701.4 529.6M693.6 518.8L696.4 529.8M688.6 519.0L690.0 524.5M702.2 526.0L723.7 527.5M723.7 527.5L725.3 538.7M718.7 527.2L720.3 538.3M713.7 526.8L714.5 532.4M727.4 532.6L748.7 535.6M748.7 535.6L749.5 546.9M743.7 534.9L744.6 546.2M738.8 534.2L739.2 539.9M752.5 539.3L773.6 543.4M773.6 543.4L773.9 554.6M768.7 542.4L769.0 553.7M763.8 541.5L764.0 547.1M777.7 545.9L798.6 550.7M798.6 550.7L798.5 562.0M793.7 549.6L793.6 560.8M788.9 548.5L788.8 554.1M681.9 541.7L703.4 542.5M703.4 542.5L705.4 553.6M698.4 542.3L700.4 553.4M693.4 542.1L694.4 547.7M732.2 555.0L753.1 559.8M753.1 559.8L753.0 571.0M748.2 558.7L748.1 569.9M743.4 557.5L743.3 563.2M757.3 561.6L777.7 568.2M777.7 568.2L776.6 579.4M773.0 566.7L771.8 577.9M768.2 565.1L767.6 570.7M782.4 568.2L802.8 574.8M802.8 574.8L801.7 586.0M798.1 573.3L797.0 584.5M793.3 571.7L792.8 577.3M711.8 570.6L732.8 575.1M732.8 575.1L732.9 586.4M727.9 574.1L728.0 585.3M723.0 573.0L723.1 578.7M736.9 577.3L757.4 583.9M757.4 583.9L756.2 595.1M752.6 582.4L751.5 593.6M747.8 580.8L747.3 586.4M762.0 583.9L782.2 591.2M782.2 591.2L780.7 602.4M777.5 589.5L776.0 600.7M772.8 587.8L772.1 593.4M787.1 590.5L804.7 602.8M804.7 602.8L800.4 613.2M800.6 600.0L796.3 610.3M796.5 597.1L794.3 602.3M716.6 593.0L737.0 599.6M737.0 599.6L735.9 610.8M732.3 598.1L731.1 609.3M727.5 596.5L726.9 602.1M741.7 599.6L761.4 608.0M761.4 608.0L759.4 619.0M756.8 606.0L754.8 617.1M752.2 604.1L751.2 609.6M766.7 606.2L786.2 615.3M786.2 615.3L783.7 626.3M781.7 613.2L779.2 624.1M777.2 611.0L775.9 616.5M1116.7 698.8L1116.7 720.3M1116.7 720.3L1105.7 722.7M1116.7 715.3L1105.7 717.7M1116.7 710.3L1111.2 711.5M1141.6 705.4L1141.6 726.9M1141.6 726.9L1130.6 729.3M1141.6 721.9L1130.6 724.3M1141.6 716.9L1136.1 718.1M696.3 608.7L717.0 614.2M717.0 614.2L716.5 625.5M712.2 612.9L711.7 624.2M707.4 611.6L707.1 617.3M721.3 615.3L741.3 623.3M741.3 623.3L739.4 634.4M736.6 621.5L734.7 632.6M732.0 619.6L731.1 625.1M796.5 635.1L811.7 650.3M811.7 650.3L805.6 659.8M808.2 646.8L802.1 656.3M821.5 641.7L835.4 658.2M835.4 658.2L828.5 667.1M832.2 654.4L825.3 663.3M701.0 631.0L721.2 638.3M721.2 638.3L719.7 649.5M716.6 636.6L715.0 647.8M711.9 634.9L711.1 640.5M726.1 637.6L745.6 646.7M745.6 646.7L743.1 657.7M741.1 644.6L738.6 655.6M736.5 642.5L735.3 648.0M751.2 644.2L765.0 660.7M765.0 660.7L758.1 669.6M761.8 656.9L754.9 665.8M758.5 653.0L755.1 657.5M680.8 646.7L700.7 654.8M700.7 654.8L698.8 665.9M696.1 652.9L694.2 664.0M691.4 651.0L690.5 656.6M705.8 653.3L723.4 665.6M723.4 665.6L719.1 676.0M719.3 662.8L715.0 673.2M715.3 659.9L713.1 665.1M730.9 659.9L743.2 677.5M743.2 677.5L735.6 685.8M740.3 673.4L732.7 681.7M737.5 669.3L733.7 673.5M755.9 666.5L765.0 686.0M765.0 686.0L756.0 692.8M762.9 681.5L753.9 688.3M760.8 677.0L756.3 680.4M685.6 669.0L700.8 684.2M700.8 684.2L694.7 693.7M697.3 680.7L691.2 690.2M693.7 677.2L690.7 681.9M710.6 675.6L724.4 692.1M724.4 692.1L717.6 701.0M721.2 688.3L714.3 697.2M718.0 684.5L714.6 688.9M735.6 682.3L746.4 700.9M746.4 700.9L738.1 708.5M743.9 696.5L735.6 704.1M741.4 692.2L737.2 696.0M690.4 691.4L701.1 710.0M701.1 710.0L692.8 717.6M698.6 705.7L690.3 713.2M696.1 701.3L692.0 705.1M715.4 698.0L722.8 718.2M722.8 718.2L713.2 724.2M721.0 713.5L711.5 719.5M719.3 708.8L714.6 711.8M740.4 704.6L747.8 724.8M747.8 724.8L738.2 730.8M746.1 720.1L736.5 726.1M744.3 715.4L739.6 718.4M695.2 713.7L700.8 734.5M700.8 734.5L690.8 739.6M699.5 729.7L689.5 734.8M698.2 724.8L693.2 727.4M720.2 720.3L723.9 741.5M723.9 741.5L713.5 745.8M723.1 736.6L712.6 740.8M722.2 731.7L717.0 733.8M745.2 726.9L748.7 748.2M748.7 748.2L738.2 752.3M747.9 743.2L737.4 747.4M747.0 738.3L741.8 740.4M700.0 736.1L701.9 757.5M701.9 757.5L691.1 760.8M701.4 752.5L690.7 755.8M701.0 747.5L695.6 749.2M725.0 742.7L725.0 764.2M725.0 764.2L714.0 766.6M725.0 759.2L714.0 761.6M725.0 754.2L719.5 755.4M749.9 749.3L749.9 770.8M749.9 770.8L738.9 773.2M749.9 765.8L738.9 768.2M749.9 760.8L744.4 762.0M774.9 755.9L774.9 777.4M774.9 777.4L763.9 779.8M774.9 772.4L763.9 774.8M774.9 767.4L769.4 768.6M704.8 758.4L704.8 779.9M704.8 779.9L693.8 782.3M704.8 774.9L693.8 777.3M704.8 769.9L699.3 771.1M729.8 765.0L727.9 786.4M727.9 786.4L716.7 787.9M728.3 781.5L717.1 782.9M728.8 776.5L723.2 777.2M709.6 780.8L705.9 801.9M705.9 801.9L694.6 802.4M706.7 797.0L695.5 797.5M707.6 792.1L702.0 792.3"/>
<path stroke="#009000" d="M1005.9 142.5L1026.5 136.2M1026.5 136.2L1032.0 146.0M1021.7 137.7L1027.2 147.5M882.9 131.6L903.5 125.3M903.5 125.3L909.0 135.1M898.7 126.8L904.2 136.6M908.4 138.2L929.0 131.9M929.0 131.9L934.5 141.7M924.2 133.4L929.7 143.2M933.9 144.8L954.5 138.5M954.5 138.5L960.0 148.4M949.7 140.0L955.2 149.8M810.9 134.0L831.3 127.1M831.3 127.1L837.0 136.8M826.5 128.7L832.3 138.4M836.4 140.6L856.8 133.7M856.8 133.7L862.6 143.4M852.1 135.3L857.8 145.0M861.9 147.2L882.5 140.9M882.5 140.9L888.0 150.7M877.7 142.4L883.2 152.2M887.5 153.8L908.0 147.5M908.0 147.5L913.5 157.3M903.2 149.0L908.7 158.8M912.9 160.4L933.5 154.1M933.5 154.1L939.0 163.9M928.7 155.6L934.2 165.4M938.4 167.0L959.0 160.7M959.0 160.7L964.5 170.6M954.2 162.2L959.7 172.0M713.3 129.7L733.6 122.7M733.6 122.7L739.5 132.3M728.9 124.3L734.8 133.9M790.0 149.5L810.4 142.7M810.4 142.7L816.1 152.4M805.6 144.3L811.4 154.0M815.5 156.2L835.9 149.3M835.9 149.3L841.7 159.0M831.2 150.9L836.9 160.6M841.0 162.8L861.4 156.0M861.4 156.0L867.2 165.6M856.7 157.5L862.4 167.2M866.5 169.4L887.1 163.1M887.1 163.1L892.6 172.9M882.3 164.6L887.8 174.4M892.0 176.0L912.6 169.7M912.6 169.7L918.1 179.5M907.8 171.2L913.3 181.0M968.3 195.8L988.9 189.6M988.9 189.6L994.4 199.4M984.1 191.0L989.6 200.8M993.7 202.5L1014.3 196.2M1014.3 196.2L1019.8 206.0M1009.5 197.6L1015.0 207.4M718.0 151.9L738.4 144.9M738.4 144.9L744.2 154.5M733.6 146.5L739.5 156.1M794.6 171.8L815.0 164.9M815.0 164.9L820.8 174.6M810.3 166.5L816.1 176.2M845.6 185.0L866.0 178.2M866.0 178.2L871.8 187.8M861.3 179.7L867.0 189.4M947.4 211.4L967.9 205.1M967.9 205.1L973.5 215.0M963.2 206.6L968.7 216.4M972.8 218.0L993.3 211.8M993.3 211.8L998.9 221.6M988.6 213.2L994.1 223.0M998.2 224.7L1018.7 218.4M1018.7 218.4L1024.2 228.2M1013.9 219.8L1019.5 229.7M595.0 141.1L615.2 133.7M615.2 133.7L621.2 143.2M610.5 135.4L616.5 144.9M824.8 200.6L845.1 193.8M845.1 193.8L850.9 203.4M840.4 195.3L846.2 205.0M951.9 233.6L972.4 227.4M972.4 227.4L977.9 237.2M967.6 228.8L973.2 238.6M977.2 240.3L997.8 234.0M997.8 234.0L1003.3 243.8M993.0 235.4L998.5 245.3M599.8 163.3L620.1 156.0M620.1 156.0L626.0 165.5M615.3 157.7L621.3 167.2M803.9 216.2L824.3 209.4M824.3 209.4L830.1 219.0M819.6 210.9L825.3 220.6M829.4 222.8L849.8 216.0M849.8 216.0L855.5 225.6M845.0 217.6L850.8 227.2M880.2 236.0L900.8 229.7M900.8 229.7L906.3 239.6M896.0 231.2L901.5 241.0M931.0 249.2L951.5 243.0M951.5 243.0L957.1 252.8M946.8 244.4L952.3 254.2M956.3 255.9L976.9 249.6M976.9 249.6L982.4 259.4M972.1 251.0L977.6 260.9M1032.4 275.7L1052.9 269.4M1052.9 269.4L1058.4 279.2M1048.1 270.9L1053.6 280.7M1057.7 282.3L1078.2 276.0M1078.2 276.0L1083.7 285.8M1073.4 277.5L1079.0 287.3M579.1 178.9L599.3 171.5M599.3 171.5L605.3 181.1M594.6 173.3L600.6 182.8M604.7 185.5L624.9 178.2M624.9 178.2L630.9 187.8M620.2 179.9L626.2 189.5M808.6 238.4L829.0 231.6M829.0 231.6L834.7 241.2M824.2 233.2L830.0 242.8M910.1 264.9L930.7 258.6M930.7 258.6L936.2 268.4M925.9 260.0L931.4 269.8M935.5 271.5L956.1 265.2M956.1 265.2L961.6 275.0M951.3 266.6L956.8 276.5M960.8 278.1L981.4 271.8M981.4 271.8L986.9 281.6M976.6 273.3L982.1 283.1M1036.8 297.9L1057.3 291.6M1057.3 291.6L1062.8 301.5M1052.5 293.1L1058.1 302.9M1062.0 304.5L1082.6 298.3M1082.6 298.3L1088.1 308.1M1077.8 299.7L1083.3 309.5M914.7 287.1L935.2 280.8M935.2 280.8L940.7 290.6M930.5 282.3L936.0 292.1M940.0 293.7L960.6 287.4M960.6 287.4L966.1 297.2M955.8 288.9L961.3 298.7M965.3 300.3L985.9 294.0M985.9 294.0L991.4 303.8M981.1 295.5L986.6 305.3M1041.2 320.2L1061.7 313.9M1061.7 313.9L1067.3 323.7M1057.0 315.3L1062.5 325.1M1066.4 326.8L1087.0 320.5M1087.0 320.5L1092.5 330.3M1082.2 321.9L1087.7 331.8M944.5 315.9L965.1 309.6M965.1 309.6L970.6 319.5M960.3 311.1L965.8 320.9M969.8 322.5L990.4 316.3M990.4 316.3L995.9 326.1M985.6 317.7L991.1 327.5M995.1 329.2L1015.6 322.9M1015.6 322.9L1021.2 332.7M1010.9 324.3L1016.4 334.2M1045.6 342.4L1066.2 336.1M1066.2 336.1L1071.7 345.9M1061.4 337.6L1066.9 347.4M1070.8 349.0L1091.4 342.7M1091.4 342.7L1096.9 352.5M1086.6 344.2L1092.1 354.0M949.0 338.2L969.6 331.9M969.6 331.9L975.1 341.7M964.8 333.3L970.3 343.2M974.3 344.8L994.9 338.5M994.9 338.5L1000.4 348.3M990.1 340.0L995.6 349.8M999.5 351.4L1020.1 345.1M1020.1 345.1L1025.6 354.9M1015.3 346.6L1020.8 356.4M1050.0 364.6L1070.6 358.3M1070.6 358.3L1076.1 368.2M1065.8 359.8L1071.3 369.6M1075.2 371.2L1095.8 364.9M1095.8 364.9L1101.3 374.8M1091.0 366.4L1096.5 376.2M978.8 367.0L999.0 359.7M999.0 359.7L1005.0 369.2M994.3 361.4L1000.3 370.9M1004.0 373.6L1024.5 367.0M1024.5 367.0L1030.1 376.7M1019.7 368.5L1025.4 378.2M1029.2 380.2L1049.7 373.6M1049.7 373.6L1055.4 383.3M1044.9 375.1L1050.6 384.8M1054.4 386.9L1074.6 379.5M1074.6 379.5L1080.6 389.0M1069.9 381.2L1076.0 390.7M1079.6 393.5L1100.0 386.8M1100.0 386.8L1105.8 396.5M1095.3 388.3L1101.0 398.0M1008.5 395.9L1028.9 389.1M1028.9 389.1L1034.6 398.8M1024.1 390.7L1029.9 400.4M1033.7 402.5L1054.1 395.7M1054.1 395.7L1059.8 405.3M1049.3 397.3L1055.1 406.9M1058.9 409.1L1079.1 402.0M1079.1 402.0L1085.0 411.6M1074.4 403.6L1080.3 413.2M1084.0 415.7L1104.4 408.8M1104.4 408.8L1110.2 418.5M1099.6 410.4L1105.4 420.1M1012.9 418.1L1033.4 411.5M1033.4 411.5L1039.1 421.2M1028.6 413.0L1034.3 422.7M1038.1 424.7L1058.4 417.7M1058.4 417.7L1064.3 427.3M1053.7 419.3L1059.6 428.9M1063.3 431.4L1083.5 424.1M1083.5 424.1L1089.5 433.6M1078.8 425.8L1084.8 435.3M1088.4 438.0L1108.7 430.8M1108.7 430.8L1114.6 440.3M1104.0 432.4L1109.9 442.0M1017.4 440.4L1037.8 433.7M1037.8 433.7L1043.6 443.4M1033.1 435.2L1038.8 444.9M1042.6 447.0L1062.8 439.6M1062.8 439.6L1068.8 449.1M1058.1 441.3L1064.1 450.8M1067.7 453.6L1087.9 446.3M1087.9 446.3L1093.9 455.8M1083.2 448.0L1089.2 457.5M1092.8 460.2L1113.0 452.7M1113.0 452.7L1119.1 462.2M1108.3 454.5L1114.4 464.0M996.8 456.0L1017.2 449.5M1017.2 449.5L1022.9 459.3M1012.5 451.0L1018.1 460.8M1021.9 462.7L1042.0 455.1M1042.0 455.1L1048.1 464.6M1037.3 456.9L1043.4 466.3M1047.0 469.3L1066.7 460.7M1066.7 460.7L1073.3 469.8M1062.1 462.7L1068.7 471.8M1072.1 475.9L1091.9 467.5M1091.9 467.5L1098.4 476.7M1087.3 469.5L1093.8 478.7M1097.2 482.5L1116.9 473.8M1116.9 473.8L1123.5 482.8M1112.3 475.8L1119.0 484.9M951.0 465.1L972.2 461.6M972.2 461.6L976.3 472.1M967.3 462.4L971.4 472.9M1001.2 478.3L1022.0 472.9M1022.0 472.9L1027.2 482.9M1017.2 474.1L1022.3 484.2M1026.4 484.9L1046.2 476.7M1046.2 476.7L1052.7 485.9M1041.6 478.6L1048.0 487.8M1051.5 491.5L1071.0 482.4M1071.0 482.4L1077.8 491.4M1066.4 484.6L1073.3 493.5M1076.6 498.1L1096.1 489.1M1096.1 489.1L1102.9 498.0M1091.5 491.2L1098.3 500.1M1101.7 504.8L1121.1 495.7M1121.1 495.7L1128.0 504.6M1116.6 497.8L1123.4 506.7M930.4 480.7L951.8 478.7M951.8 478.7L955.2 489.4M946.8 479.2L950.2 489.9M955.5 487.4L976.8 484.7M976.8 484.7L980.6 495.3M971.9 485.3L975.6 495.9M980.6 494.0L1001.9 491.0M1001.9 491.0L1005.8 501.5M997.0 491.7L1000.9 502.2M1005.7 500.6L1026.9 496.7M1026.9 496.7L1031.2 507.1M1022.0 497.6L1026.3 508.0M1030.8 507.2L1051.7 501.8M1051.7 501.8L1056.7 511.9M1046.8 503.1L1051.9 513.1M1055.9 513.8L1075.4 504.7M1075.4 504.7L1082.2 513.7M1070.9 506.8L1077.7 515.8M1081.0 520.4L1100.5 511.3M1100.5 511.3L1107.3 520.3M1096.0 513.4L1102.8 522.4M1106.1 527.0L1125.6 517.9M1125.6 517.9L1132.4 526.9M1121.0 520.1L1127.8 529.0M784.0 463.3L805.3 460.5M805.3 460.5L809.1 471.1M800.4 461.2L804.2 471.7M909.8 496.4L931.3 494.9M931.3 494.9L934.4 505.7M926.3 495.2L929.4 506.0M934.9 503.0L956.4 501.1M956.4 501.1L959.7 511.9M951.4 501.6L954.7 512.3M960.1 509.6L981.4 506.6M981.4 506.6L985.3 517.2M976.4 507.3L980.3 517.9M985.2 516.2L1006.5 513.6M1006.5 513.6L1010.2 524.2M1001.5 514.2L1005.3 524.9M1010.3 522.9L1031.3 518.4M1031.3 518.4L1035.9 528.6M1026.4 519.4L1031.0 529.7M1035.3 529.5L1056.8 530.6M1056.8 530.6L1058.6 541.7M1051.8 530.3L1053.6 541.4M1060.4 536.1L1079.4 526.0M1079.4 526.0L1086.7 534.6M1075.0 528.3L1082.2 536.9M1085.4 542.7L1104.4 532.6M1104.4 532.6L1111.7 541.2M1100.0 535.0L1107.3 543.5M788.7 485.6L810.2 484.9M810.2 484.9L813.0 495.8M805.2 485.0L808.0 495.9M813.9 492.2L835.4 491.5M835.4 491.5L838.1 502.4M830.4 491.7L833.1 502.6M839.0 498.8L860.5 498.1M860.5 498.1L863.3 509.0M855.5 498.3L858.3 509.2M889.3 512.1L910.7 510.6M910.7 510.6L913.9 521.4M905.7 510.9L908.9 521.7M914.4 518.7L935.9 517.2M935.9 517.2L939.0 528.0M930.9 517.5L934.0 528.3M939.5 525.3L961.0 525.3M961.0 525.3L963.4 536.3M956.0 525.3L958.4 536.3M818.5 514.5L839.7 518.2M839.7 518.2L840.2 529.5M834.8 517.4L835.2 528.6M868.8 527.7L890.3 527.0M890.3 527.0L893.1 537.9M885.3 527.2L888.1 538.1M893.9 534.4L915.3 532.9M915.3 532.9L918.5 543.7M910.4 533.2L913.5 544.0M919.0 541.0L940.5 540.2M940.5 540.2L943.3 551.1M935.5 540.4L938.3 551.3M944.1 547.6L965.6 546.8M965.6 546.8L968.3 557.7M960.6 547.0L963.4 557.9M969.2 554.2L990.6 555.3M990.6 555.3L992.4 566.4M985.6 555.1L987.5 566.2M798.1 530.2L819.3 533.9M819.3 533.9L819.7 545.2M814.3 533.1L814.8 544.3M823.2 536.8L844.4 540.5M844.4 540.5L844.8 551.8M839.5 539.7L839.9 550.9M848.3 543.4L869.8 541.9M869.8 541.9L872.9 552.7M864.8 542.3L867.9 553.1M873.4 550.0L894.8 547.8M894.8 547.8L898.3 558.5M889.8 548.3L893.4 559.0M898.5 556.6L920.0 555.9M920.0 555.9L922.8 566.8M915.0 556.1L917.8 567.0M923.6 563.3L945.0 561.8M945.0 561.8L948.2 572.6M940.0 562.1L943.2 572.9M948.6 569.9L970.1 568.4M970.1 568.4L973.3 579.2M965.1 568.7L968.3 579.5M973.7 576.5L994.9 572.8M994.9 572.8L999.1 583.2M990.0 573.6L994.2 584.0M802.8 552.5L822.3 561.6M822.3 561.6L819.8 572.6M817.7 559.5L815.3 570.4M827.9 559.1L847.4 568.2M847.4 568.2L844.9 579.2M842.8 566.1L840.4 577.1M853.0 565.7L874.4 564.2M874.4 564.2L877.6 575.0M869.4 564.6L872.6 575.4M878.1 572.3L899.5 570.8M899.5 570.8L902.7 581.6M894.5 571.2L897.7 582.0M903.1 578.9L924.5 576.7M924.5 576.7L928.0 587.4M919.5 577.2L923.1 587.9M928.2 585.6L949.6 583.3M949.6 583.3L953.1 594.0M944.6 583.8L948.1 594.5M953.2 592.2L974.6 589.9M974.6 589.9L978.1 600.6M969.6 590.4L973.2 601.1M978.3 598.8L998.8 592.5M998.8 592.5L1004.3 602.3M994.0 594.0L999.5 603.8M807.5 574.8L826.1 585.5M826.1 585.5L822.7 596.3M821.8 583.0L818.3 593.8M832.6 581.4L852.0 590.5M852.0 590.5L849.6 601.5M847.5 588.4L845.0 599.4M982.8 621.1L1003.4 614.8M1003.4 614.8L1008.9 624.6M998.6 616.3L1004.1 626.1M812.2 597.1L829.8 609.4M829.8 609.4L825.4 619.8M825.7 606.6L821.3 617.0M837.2 603.7L854.6 616.4M854.6 616.4L850.1 626.7M850.6 613.4L846.0 623.7M1112.2 676.5L1112.2 698.0M1112.2 698.0L1101.2 700.4M1112.2 693.0L1101.2 695.4M1137.1 683.1L1137.1 704.6M1137.1 704.6L1126.1 707.0M1137.1 699.6L1126.1 702.0M791.8 612.8L810.4 623.5M810.4 623.5L807.0 634.3M806.1 621.0L802.7 631.8M816.9 619.4L834.5 631.7M834.5 631.7L830.1 642.1M830.4 628.9L826.0 639.3M841.9 626.0L857.1 641.2M857.1 641.2L851.0 650.7M853.6 637.7L847.5 647.2M866.9 632.6L882.1 647.8M882.1 647.8L876.0 657.3M878.6 644.3L872.5 653.8M1091.7 692.2L1091.7 713.7M1091.7 713.7L1080.7 716.1M1091.7 708.7L1080.7 711.1M746.4 621.9L766.6 629.2M766.6 629.2L765.1 640.4M761.9 627.5L760.4 638.7M771.5 628.5L790.9 637.6M790.9 637.6L788.5 648.6M786.4 635.5L783.9 646.5M846.6 648.3L858.9 666.0M858.9 666.0L851.3 674.2M856.0 661.9L848.4 670.1M871.6 655.0L883.9 672.6M883.9 672.6L876.3 680.8M881.0 668.5L873.4 676.8M1146.0 727.7L1147.9 749.1M1147.9 749.1L1137.2 752.5M1147.5 744.1L1136.7 747.5M776.2 650.8L795.7 659.9M795.7 659.9L793.2 670.9M791.1 657.8L788.7 668.8M801.2 657.4L816.4 672.6M816.4 672.6L810.3 682.1M812.9 669.1L806.8 678.6M826.2 664.1L837.0 682.7M837.0 682.7L828.7 690.3M834.5 678.3L826.2 685.9M851.2 670.7L862.0 689.3M862.0 689.3L853.7 696.9M859.5 685.0L851.2 692.5M780.9 673.2L794.7 689.6M794.7 689.6L787.9 698.5M791.5 685.8L784.6 694.7M805.9 679.8L816.7 698.4M816.7 698.4L808.4 706.0M814.2 694.1L805.9 701.6M760.7 688.9L768.0 709.1M768.0 709.1L758.5 715.1M766.3 704.4L756.8 710.4M785.7 695.5L794.7 715.0M794.7 715.0L785.8 721.8M792.6 710.4L783.7 717.3M810.6 702.1L819.7 721.6M819.7 721.6L810.8 728.4M817.6 717.1L808.7 723.9M860.6 715.3L866.9 735.9M866.9 735.9L857.1 741.4M865.5 731.1L860.5 733.9M885.6 721.9L892.5 742.3M892.5 742.3L882.9 748.1M890.9 737.6L886.1 740.5M765.4 711.2L772.8 731.4M772.8 731.4L763.2 737.4M771.0 726.7L761.5 732.7M790.4 717.8L797.7 738.0M797.7 738.0L788.2 744.0M796.0 733.3L786.5 739.3M840.3 731.1L844.8 752.1M844.8 752.1L834.5 756.7M843.8 747.2L833.5 751.8M865.3 737.7L869.7 758.7M869.7 758.7L859.5 763.3M868.7 753.8L858.4 758.4M890.2 744.3L894.7 765.3M894.7 765.3L884.4 769.9M893.6 760.4L883.4 765.1M915.1 750.9L920.7 771.7M920.7 771.7L910.7 776.8M919.4 766.8L914.4 769.4M770.1 733.6L770.9 755.0M770.9 755.0L760.0 757.8M770.7 750.0L759.8 752.8M795.1 740.2L799.6 761.2M799.6 761.2L789.3 765.8M798.5 756.3L788.3 760.9M820.1 746.8L824.5 767.8M824.5 767.8L814.3 772.4M823.5 762.9L813.2 767.6M845.0 753.4L849.5 774.4M849.5 774.4L839.2 779.1M848.4 769.5L838.2 774.2M870.0 760.0L874.4 781.0M874.4 781.0L864.2 785.7M873.4 776.1L863.1 780.8M894.9 766.6L899.3 787.7M899.3 787.7L889.1 792.3M898.3 782.8L888.0 787.4M919.8 773.2L924.3 794.3M924.3 794.3L914.0 798.9M923.2 789.4L918.1 791.7M799.8 762.5L804.3 783.5M804.3 783.5L794.1 788.2M803.3 778.7L793.0 783.3M824.8 769.1L829.3 790.2M829.3 790.2L819.0 794.8M828.2 785.3L818.0 789.9M849.7 775.7L854.2 796.8M854.2 796.8L843.9 801.4M853.1 791.9L842.9 796.5M874.6 782.4L879.1 803.4M879.1 803.4L868.8 808.0M878.1 798.5L867.8 803.1M899.5 789.0L899.5 810.5M899.5 810.5L888.5 812.9M899.5 805.5L888.5 807.9M924.4 795.6L926.3 817.0M926.3 817.0L915.6 820.4M925.9 812.0L920.5 813.7M754.7 771.6L752.8 793.1M752.8 793.1L741.7 794.5M753.3 788.1L742.1 789.5M779.6 778.3L775.9 799.4M775.9 799.4L764.7 799.9M776.8 794.5L765.5 795.0M804.6 784.9L809.0 805.9M809.0 805.9L798.8 810.5M808.0 801.0L797.7 805.6M829.5 791.5L834.0 812.5M834.0 812.5L823.7 817.1M832.9 807.6L822.7 812.3M854.4 798.1L858.9 819.1M858.9 819.1L848.6 823.8M857.8 814.2L847.6 818.9M879.3 804.7L883.8 825.7M883.8 825.7L873.5 830.4M882.7 820.9L872.5 825.5M734.5 787.4L727.2 807.6M727.2 807.6L716.0 806.1M728.9 802.9L717.7 801.4M759.5 794.0L753.9 814.8M753.9 814.8L742.7 814.2M755.2 809.9L744.0 809.4M784.4 800.6L783.6 822.1M783.6 822.1L772.6 824.1M783.8 817.1L772.7 819.1M809.3 807.2L810.1 828.7M810.1 828.7L799.2 831.5M809.9 823.7L799.0 826.5M834.2 813.8L830.5 835.0M830.5 835.0L819.2 835.5M831.4 830.1L820.1 830.5M859.1 820.5L859.1 842.0M859.1 842.0L848.1 844.4M859.1 837.0L848.1 839.4M714.4 803.1L706.3 823.1M706.3 823.1L695.2 821.2M708.2 818.4L697.1 816.5M739.3 809.7L732.0 830.0M732.0 830.0L720.8 828.4M733.7 825.3L722.5 823.7M764.2 816.4L760.5 837.5M760.5 837.5L749.3 838.0M761.4 832.6L750.1 833.1M789.1 823.0L788.4 844.5M788.4 844.5L777.3 846.5M788.6 839.5L777.5 841.5M814.0 829.6L813.3 851.1M813.3 851.1L802.2 853.1M813.5 846.1L802.4 848.1M838.9 836.2L834.5 857.2M834.5 857.2L823.2 857.3M835.5 852.3L824.2 852.4M863.8 842.8L865.3 864.3M865.3 864.3L854.5 867.4M865.0 859.3L854.2 862.4M1012.9 882.5L1018.8 903.2M1018.8 903.2L1008.8 908.5M1017.4 898.4L1007.5 903.7M719.2 825.5L711.1 845.4M711.1 845.4L700.0 843.5M713.0 840.8L701.9 838.9M744.1 832.1L736.8 852.3M736.8 852.3L725.6 850.8M738.5 847.6L727.3 846.1M769.0 838.7L764.5 859.8M764.5 859.8L753.3 859.8M765.6 854.9L754.3 854.9M793.9 845.3L793.1 866.8M793.1 866.8L782.1 868.8M793.3 861.8L782.2 863.8M818.8 852.0L815.8 873.3M815.8 873.3L804.6 874.1M816.5 868.3L805.3 869.1M843.7 858.6L841.4 880.0M841.4 880.0L830.2 881.2M841.9 875.0L830.7 876.2M868.5 865.2L869.3 886.7M869.3 886.7L858.4 889.5M869.1 881.7L858.2 884.5M724.0 847.9L714.9 867.4M714.9 867.4L703.9 864.9M717.0 862.8L706.0 860.4M748.9 854.5L745.2 875.7M745.2 875.7L733.9 876.1M746.0 870.7L734.8 871.2M773.8 861.1L769.3 882.1M769.3 882.1L758.0 882.2M770.3 877.2L759.1 877.3M798.7 867.7L793.1 888.5M793.1 888.5L781.8 888.0M794.4 883.7L783.1 883.1M823.5 874.3L819.8 895.5M819.8 895.5L808.5 896.0M820.7 890.6L809.4 891.0M848.4 880.9L850.3 902.4M850.3 902.4L839.5 905.7M849.8 897.4L839.1 900.7M873.2 887.6L867.7 908.3M867.7 908.3L856.4 907.8M869.0 903.5L857.7 903.0M898.1 894.2L896.2 915.6M896.2 915.6L885.0 917.0M896.6 910.6L885.5 912.0M922.9 900.8L924.8 922.2M924.8 922.2L914.0 925.6M924.4 917.2L913.6 920.6M947.7 907.4L951.5 928.6M951.5 928.6L941.1 932.8M950.6 923.7L940.2 927.9M972.6 914.0L975.9 935.3M975.9 935.3L965.4 939.3M975.1 930.3L964.7 934.4M997.4 920.6L1001.7 941.7M1001.7 941.7L991.4 946.3M1000.7 936.8L990.4 941.4M728.8 870.3L719.7 889.7M719.7 889.7L708.7 887.3M721.8 885.2L710.8 882.7M753.7 876.9L750.7 898.2M750.7 898.2L739.5 899.0M751.4 893.2L740.1 894.1M778.5 883.5L774.1 904.5M774.1 904.5L762.8 904.6M775.1 899.6L763.9 899.7M803.4 890.1L797.8 910.9M797.8 910.9L786.6 910.3M799.1 906.0L787.9 905.5M828.3 896.7L823.8 917.7M823.8 917.7L812.5 917.8M824.8 912.9L813.6 912.9M853.1 903.3L856.1 924.6M856.1 924.6L845.5 928.5M855.4 919.7L844.8 923.6M877.9 909.9L871.3 930.4M871.3 930.4L860.1 929.3M872.8 925.6L861.6 924.5M902.8 916.6L905.8 937.8M905.8 937.8L895.2 941.8M905.1 932.9L894.5 936.8M952.4 929.8L956.1 951.0M956.1 951.0L945.6 955.2M955.2 946.0L944.8 950.3M977.2 936.4L982.1 957.3M982.1 957.3L971.9 962.2M981.0 952.5L970.8 957.3M1002.0 943.0L1009.0 963.3M1009.0 963.3L999.4 969.2M1007.4 958.6L997.8 964.5M733.6 892.6L726.2 912.8M726.2 912.8L715.1 911.3M727.9 908.1L716.8 906.6M758.5 899.3L755.5 920.5M755.5 920.5L744.2 921.4M756.2 915.6L744.9 916.4M783.3 905.9L778.8 926.9M778.8 926.9L767.6 927.0M779.9 922.0L768.6 922.1M808.2 912.5L800.8 932.7M800.8 932.7L789.7 931.2M802.5 928.0L791.4 926.5M833.0 919.1L833.8 940.6M833.8 940.6L822.8 943.4M833.6 935.6L822.7 938.4M882.7 932.3L881.9 953.8M881.9 953.8L870.8 955.8M882.1 948.8L871.0 950.8M932.3 945.6L940.3 965.5M940.3 965.5L931.0 971.8M938.5 960.8L933.8 964.0M957.1 952.2L963.8 972.6M963.8 972.6L954.1 978.3M962.2 967.8L957.4 970.7M981.9 958.8L989.3 979.0M989.3 979.0L979.8 985.0M987.6 974.3L982.8 977.3M738.4 915.0L732.8 935.8M732.8 935.8L721.6 935.3M734.1 931.0L722.9 930.4M763.2 921.6L757.7 942.4M757.7 942.4L746.4 941.9M759.0 937.6L747.7 937.1M788.1 928.3L781.4 948.7M781.4 948.7L770.2 947.6M783.0 943.9L771.8 942.8M837.7 941.5L841.5 962.7M841.5 962.7L831.1 966.9M840.6 957.7L830.2 962.0M862.6 948.1L862.6 969.6M862.6 969.6L851.6 972.0M862.6 964.6L851.6 967.0M887.4 954.7L889.3 976.1M889.3 976.1L878.5 979.5M888.8 971.1L878.1 974.5M912.2 961.3L920.2 981.3M920.2 981.3L910.9 987.6M918.4 976.6L909.1 983.0M937.0 967.9L943.5 988.4M943.5 988.4L933.8 994.1M942.0 983.7L937.1 986.5M961.8 974.6L968.5 995.0M968.5 995.0L958.8 1000.7M966.9 990.2L962.1 993.1M986.5 981.2L994.6 1001.1M994.6 1001.1L985.3 1007.4M992.7 996.5L988.1 999.6M743.2 937.4L737.6 958.2M737.6 958.2L726.4 957.7M738.9 953.4L733.3 953.1M817.7 957.3L822.9 978.1M822.9 978.1L812.8 983.1M821.7 973.3L816.6 975.8M842.5 963.9L847.7 984.7M847.7 984.7L837.6 989.7M846.5 979.9L841.4 982.4M867.3 970.5L866.2 992.0M866.2 992.0L855.1 993.8M866.4 987.0L860.9 987.9M892.1 977.1L897.7 997.9M897.7 997.9L887.7 1003.0M896.4 993.0L891.4 995.6M916.9 983.7L922.6 1004.4M922.6 1004.4L912.7 1009.7M921.3 999.6L916.3 1002.2M941.7 990.3L947.6 1011.0M947.6 1011.0L937.7 1016.3M946.2 1006.2L941.3 1008.9M966.4 996.9L972.6 1017.6M972.6 1017.6L962.7 1023.0M971.1 1012.8L966.2 1015.5M991.2 1003.6L997.5 1024.1M997.5 1024.1L987.7 1029.6M996.0 1019.3L991.1 1022.1M822.4 979.7L828.0 1000.4M828.0 1000.4L818.0 1005.6M826.7 995.6L821.7 998.2M847.2 986.3L852.8 1007.1M852.8 1007.1L842.8 1012.2M851.5 1002.2L846.5 1004.8M872.0 992.9L877.7 1013.6M877.7 1013.6L867.8 1018.9M876.4 1008.8L871.4 1011.4M896.8 999.5L902.7 1020.2M902.7 1020.2L892.8 1025.5M901.3 1015.4L896.4 1018.0M921.6 1006.1L927.7 1026.7M927.7 1026.7L917.8 1032.2M926.3 1021.9L921.3 1024.6M946.4 1012.7L952.6 1033.3M952.6 1033.3L942.8 1038.8M951.2 1028.5L946.3 1031.3M971.1 1019.3L977.6 1039.9M977.6 1039.9L967.8 1045.4M976.1 1035.1L971.2 1037.9M995.9 1026.0L1002.5 1046.4M1002.5 1046.4L992.8 1052.1M1001.0 1041.7L996.1 1044.5M802.4 995.5L808.3 1016.1M808.3 1016.1L798.3 1021.4M806.9 1011.3L801.9 1014.0M827.2 1002.1L833.1 1022.8M833.1 1022.8L823.1 1028.1M831.7 1017.9L826.7 1020.6M852.0 1008.7L857.8 1029.4M857.8 1029.4L847.9 1034.7M856.5 1024.6L851.5 1027.2M876.8 1015.3L882.8 1035.9M882.8 1035.9L872.9 1041.3M881.4 1031.1L876.5 1033.8M901.6 1021.9L907.8 1042.5M907.8 1042.5L897.9 1048.0M906.3 1037.7L901.4 1040.4M926.3 1028.5L932.7 1049.0M932.7 1049.0L922.9 1054.6M931.2 1044.3L926.3 1047.1M951.1 1035.1L957.7 1055.6M957.7 1055.6L947.9 1061.3M956.1 1050.8L951.3 1053.7M975.8 1041.7L982.6 1062.2M982.6 1062.2L972.9 1067.9M981.0 1057.4L976.2 1060.3M1000.6 1048.4L1007.5 1068.7M1007.5 1068.7L997.9 1074.5M1005.9 1064.0L1001.1 1066.9M757.6 1004.6L755.7 1026.1M755.7 1026.1L744.6 1027.5M756.2 1021.1L750.6 1021.8M782.4 1011.2L788.6 1031.8M788.6 1031.8L778.7 1037.3M787.1 1027.1L782.2 1029.8M832.0 1024.5L838.2 1045.1M838.2 1045.1L828.3 1050.5M836.7 1040.3L831.8 1043.0M856.8 1031.1L862.9 1051.7M862.9 1051.7L853.1 1057.1M861.5 1046.9L856.6 1049.6M881.5 1037.7L887.9 1058.2M887.9 1058.2L878.1 1063.8M886.4 1053.5L881.5 1056.2M906.3 1044.3L912.8 1064.8M912.8 1064.8L903.1 1070.4M911.3 1060.0L906.4 1062.9M931.0 1050.9L937.8 1071.4M937.8 1071.4L928.1 1077.1M936.2 1066.6L931.3 1069.5M955.8 1057.5L962.7 1077.9M962.7 1077.9L953.0 1083.7M961.1 1073.2L956.3 1076.1M980.5 1064.2L987.6 1084.5M987.6 1084.5L978.0 1090.3M986.0 1079.7L981.2 1082.7M1005.3 1070.8L1012.5 1091.0M1012.5 1091.0L1003.0 1097.0M1010.8 1086.3L1006.1 1089.3M762.4 1027.0L768.9 1047.5M768.9 1047.5L759.2 1053.2M767.4 1042.8L762.5 1045.6M787.2 1033.7L793.7 1054.2M793.7 1054.2L783.9 1059.8M792.2 1049.4L787.3 1052.2M812.0 1040.3L818.5 1060.8M818.5 1060.8L808.7 1066.4M817.0 1056.0L812.1 1058.8M836.7 1046.9L843.2 1067.4M843.2 1067.4L833.5 1073.0M841.7 1062.6L836.9 1065.4M861.5 1053.5L868.0 1074.0M868.0 1074.0L858.3 1079.6M866.5 1069.2L861.6 1072.0M886.3 1060.1L892.9 1080.6M892.9 1080.6L883.2 1086.3M891.4 1075.8L886.5 1078.6M911.0 1066.7L917.9 1087.1M917.9 1087.1L908.2 1092.9M916.3 1082.4L911.5 1085.3M935.8 1073.3L942.8 1093.7M942.8 1093.7L933.2 1099.5M941.2 1088.9L936.4 1091.9M960.5 1080.0L967.7 1100.2M967.7 1100.2L958.2 1106.2M966.0 1095.5L961.3 1098.5M985.2 1086.6L992.6 1106.8M992.6 1106.8L983.1 1112.8M990.9 1102.1L986.2 1105.1M1010.0 1093.2L1017.5 1113.3M1017.5 1113.3L1008.1 1119.4M1015.8 1108.6L1011.0 1111.7M767.2 1049.5L774.0 1069.9M774.0 1069.9L764.4 1075.6M772.5 1065.1L767.6 1068.0M792.0 1056.1L798.8 1076.5M798.8 1076.5L789.1 1082.2M797.2 1071.7L792.4 1074.6M816.8 1062.7L823.6 1083.1M823.6 1083.1L813.9 1088.8M822.0 1078.3L817.2 1081.2M841.5 1069.3L848.3 1089.7M848.3 1089.7L838.7 1095.5M846.8 1085.0L841.9 1087.8M866.3 1075.9L873.1 1096.3M873.1 1096.3L863.4 1102.1M871.5 1091.6L866.7 1094.5M891.0 1082.5L898.0 1102.9M898.0 1102.9L888.4 1108.7M896.4 1098.1L891.6 1101.1M915.8 1089.1L922.9 1109.4M922.9 1109.4L913.4 1115.3M921.3 1104.7L916.5 1107.7M940.5 1095.8L947.8 1116.0M947.8 1116.0L938.3 1122.0M946.1 1111.3L941.4 1114.3M772.0 1071.9L779.2 1092.2M779.2 1092.2L769.6 1098.1M777.5 1087.5L772.7 1090.4M796.8 1078.5L803.9 1098.8M803.9 1098.8L794.4 1104.7M802.3 1094.1L797.5 1097.0M821.5 1085.1L828.7 1105.4M828.7 1105.4L819.1 1111.3M827.0 1100.7L822.2 1103.6M846.3 1091.7L853.4 1112.0M853.4 1112.0L843.9 1117.9M851.8 1107.3L847.0 1110.3M871.0 1098.3L878.2 1118.6M878.2 1118.6L868.6 1124.5M876.5 1113.9L871.7 1116.9M895.8 1105.0L903.1 1125.2M903.1 1125.2L893.6 1131.2M901.4 1120.5L896.6 1123.5M776.8 1094.3L784.3 1114.5M784.3 1114.5L774.8 1120.5M782.6 1109.8L777.8 1112.8M801.6 1100.9L809.1 1121.1M809.1 1121.1L799.6 1127.2M807.3 1116.4L802.6 1119.4M826.3 1107.5L833.8 1127.7M833.8 1127.7L824.3 1133.8M832.1 1123.0L827.3 1126.1M851.1 1114.2L858.5 1134.3M858.5 1134.3L849.1 1140.4M856.8 1129.6L852.1 1132.7M781.7 1116.8L789.4 1136.8M789.4 1136.8L780.0 1143.0M787.6 1132.1L782.9 1135.2M806.4 1123.4L814.2 1143.4M814.2 1143.4L804.8 1149.6M812.4 1138.7L807.7 1141.9M831.1 1130.0L838.9 1150.0M838.9 1150.0L829.5 1156.2M837.1 1145.4L832.4 1148.5M811.2 1145.8L819.3 1165.7M819.3 1165.7L810.0 1172.1M817.4 1161.1L812.8 1164.3M835.9 1152.4L844.0 1172.3M844.0 1172.3L834.7 1178.7M842.1 1167.7L837.5 1170.9M816.0 1168.2L824.4 1188.0M824.4 1188.0L815.2 1194.5M822.5 1183.4L817.9 1186.7"/>
<path stroke="#ff8c0a" d="M622.9 379.1L642.4 370.0M642.4 370.0L649.2 379.0M637.9 372.1L644.7 381.1M633.3 374.2L636.8 378.7M774.6 418.8L795.2 412.6M795.2 412.6L800.7 422.4M790.4 414.0L795.9 423.9M785.6 415.5L788.4 420.4M627.8 401.4L647.5 392.9M647.5 392.9L654.1 402.1M642.9 394.9L649.5 404.0M638.3 396.8L641.6 401.4M653.1 408.0L673.4 401.1M673.4 401.1L679.2 410.7M668.7 402.7L674.5 412.3M663.9 404.3L666.8 409.1M632.6 423.6L653.3 417.9M653.3 417.9L658.6 427.8M648.5 419.2L653.8 429.1M643.7 420.5L646.3 425.5M637.4 445.9L657.9 439.4M657.9 439.4L663.5 449.1M653.1 440.9L658.8 450.6M648.4 442.4L651.2 447.3M656.7 535.1L678.2 533.6M678.2 533.6L681.3 544.4M673.2 534.0L676.3 544.8M668.2 534.3L669.8 539.7M707.0 548.3L728.4 550.6M728.4 550.6L729.6 561.8M723.4 550.1L724.7 561.3M718.5 549.5L719.1 555.1M661.5 557.4L683.0 558.9M683.0 558.9L684.6 570.1M678.0 558.6L679.6 569.7M673.0 558.2L673.8 563.8M686.7 564.0L707.5 569.2M707.5 569.2L707.2 580.5M702.7 568.0L702.4 579.3M697.8 566.8L697.7 572.4M666.4 579.7L687.7 582.0M687.7 582.0L689.0 593.2M682.8 581.5L684.0 592.6M677.8 580.9L678.4 586.5M691.5 586.3L712.2 591.9M712.2 591.9L711.7 603.2M707.4 590.6L706.9 601.9M702.6 589.3L702.3 594.9M671.2 602.0L692.0 607.2M692.0 607.2L691.7 618.5M687.2 606.0L686.8 617.3M682.3 604.8L682.2 610.5M676.0 624.4L697.1 628.1M697.1 628.1L697.6 639.4M692.2 627.2L692.7 638.5M687.3 626.4L687.5 632.0"/>
<path stroke="#0033ff" d="M1110.5 549.3L1129.5 539.2M1129.5 539.2L1136.8 547.8M1125.1 541.6L1128.7 545.9M964.6 531.9L986.1 531.2M986.1 531.2L988.9 542.1M981.1 531.3L982.5 536.8M989.7 538.5L1011.1 537.0M1011.1 537.0L1014.3 547.8M1006.1 537.4L1007.7 542.8M1014.8 545.1L1035.8 540.7M1035.8 540.7L1040.4 550.9M1030.9 541.7L1033.2 546.8M1039.8 551.8L1061.3 552.5M1061.3 552.5L1063.3 563.6M1056.3 552.3L1057.3 557.9M1064.9 558.4L1082.7 546.3M1082.7 546.3L1090.8 554.1M1078.5 549.1L1082.6 553.0M1089.9 565.0L1107.7 553.0M1107.7 553.0L1115.9 560.7M1103.6 555.8L1107.6 559.6M1114.9 571.6L1132.7 559.6M1132.7 559.6L1140.9 567.3M1128.6 562.4L1132.7 566.3M994.2 560.8L1015.4 557.1M1015.4 557.1L1019.7 567.5M1010.5 557.9L1012.6 563.2M1019.3 567.4L1039.7 560.8M1039.7 560.8L1045.4 570.5M1035.0 562.3L1037.8 567.2M1044.3 574.0L1065.1 568.5M1065.1 568.5L1070.2 578.5M1060.2 569.8L1062.8 574.8M1069.3 580.7L1087.6 569.3M1087.6 569.3L1095.4 577.3M1083.3 571.9L1087.3 575.9M1094.3 587.3L1112.4 575.6M1112.4 575.6L1120.4 583.5M1108.2 578.3L1112.2 582.2M1119.3 593.9L1137.0 581.5M1137.0 581.5L1145.2 589.2M1132.9 584.4L1137.0 588.2M998.7 583.1L1019.5 577.5M1019.5 577.5L1024.7 587.5M1014.7 578.8L1017.3 583.8M1073.8 602.9L1093.6 594.5M1093.6 594.5L1100.1 603.7M1098.8 609.6L1118.7 601.5M1118.7 601.5L1125.1 610.8M1003.3 605.4L1021.9 594.7M1021.9 594.7L1029.5 603.0M1017.6 597.2L1021.4 601.3M1028.3 612.0L1046.3 600.3M1046.3 600.3L1054.3 608.2M1042.1 603.0L1046.1 607.0M857.6 588.0L877.6 596.1M877.6 596.1L875.7 607.2M872.9 594.2L872.0 599.8M882.7 594.6L903.6 599.5M903.6 599.5L903.5 610.7M898.8 598.3L898.7 604.0M907.7 601.2L929.1 599.0M929.1 599.0L932.6 609.7M924.1 599.5L925.9 604.9M932.8 607.9L954.2 606.4M954.2 606.4L957.4 617.2M949.2 606.7L950.8 612.1M957.8 614.5L978.7 609.6M978.7 609.6L983.6 619.8M973.9 610.8L976.3 615.9M1007.8 627.7L1027.7 619.7M1027.7 619.7L1034.1 629.0M1032.8 634.3L1052.4 625.5M1052.4 625.5L1059.1 634.6M1057.8 640.9L1077.6 632.5M1077.6 632.5L1084.1 641.7M1082.8 647.5L1083.5 669.0M1083.5 669.0L1072.6 671.8M1083.3 664.0L1077.9 665.4M1132.7 660.8L1117.5 676.0M1117.5 676.0L1108.0 669.9M862.3 610.3L879.9 622.7M879.9 622.7L875.5 633.0M875.8 619.8L873.6 625.0M887.3 616.9L904.9 629.3M904.9 629.3L900.6 639.7M900.8 626.4L898.7 631.6M912.3 623.6L931.0 634.3M931.0 634.3L927.5 645.0M937.4 630.2L957.6 637.5M957.6 637.5L956.1 648.7M1012.4 650.0L1031.7 640.6M1031.7 640.6L1038.7 649.4M1037.3 656.6L1055.6 645.2M1055.6 645.2L1063.4 653.3M1062.3 663.2L1079.9 650.9M1079.9 650.9L1088.2 658.5M1087.2 669.9L1070.8 683.7M1070.8 683.7L1061.9 676.8M891.9 639.3L907.2 654.5M907.2 654.5L901.1 663.9M917.0 645.9L932.2 661.1M932.2 661.1L926.1 670.5M942.0 652.5L960.9 662.6M960.9 662.6L957.9 673.4M1066.8 685.6L1056.1 704.2M1056.1 704.2L1045.3 700.8M896.6 661.6L908.9 679.2M908.9 679.2L901.3 687.5M921.6 668.2L935.8 684.3M935.8 684.3L929.2 693.4M946.6 674.8L960.4 691.3M960.4 691.3L953.5 700.2M1121.1 721.1L1123.0 742.5M1123.0 742.5L1112.3 745.9M1122.6 737.5L1117.2 739.2M876.2 677.3L887.0 695.9M887.0 695.9L878.7 703.5M901.2 683.9L912.0 702.5M912.0 702.5L903.6 710.1M926.2 690.5L937.3 708.9M937.3 708.9L929.1 716.7M951.2 697.1L961.3 716.1M961.3 716.1L952.7 723.4M976.1 703.7L983.5 723.9M983.5 723.9L974.0 730.0M1125.6 743.4L1123.8 764.8M1123.8 764.8L1112.6 766.3M1150.5 750.0L1149.8 771.5M1149.8 771.5L1138.7 773.5M830.9 686.4L842.1 704.7M842.1 704.7L834.0 712.5M839.5 700.5L835.4 704.4M855.9 693.0L866.1 711.9M866.1 711.9L857.6 719.3M880.9 699.6L890.0 719.1M890.0 719.1L881.0 725.9M905.9 706.2L914.9 725.7M914.9 725.7L906.0 732.5M930.8 712.8L939.8 732.4M939.8 732.4L930.8 739.1M955.8 719.5L964.9 738.9M964.9 738.9L955.9 745.8M980.7 726.1L986.3 746.8M986.3 746.8L976.3 752.0M1005.6 732.7L1007.5 754.1M1007.5 754.1L996.8 757.4M1030.5 739.3L1026.8 760.5M1026.8 760.5L1015.6 760.9M1055.5 745.9L1049.9 766.7M1049.9 766.7L1038.6 766.1M1105.2 759.1L1105.2 780.6M1105.2 780.6L1094.2 783.0M1130.1 765.7L1129.0 787.2M1129.0 787.2L1117.9 789.0M1155.0 772.4L1153.9 793.8M1153.9 793.8L1142.8 795.7M835.6 708.7L843.2 728.8M843.2 728.8L833.7 735.0M841.4 724.2L836.7 727.2M910.5 728.6L917.5 748.9M917.5 748.9L907.9 754.7M935.4 735.2L942.0 755.7M942.0 755.7L932.2 761.3M960.4 741.8L967.7 762.0M967.7 762.0L958.2 768.0M985.3 748.4L989.8 769.4M989.8 769.4L979.5 774.1M1010.2 755.0L1010.2 776.5M1010.2 776.5L999.2 778.9M1035.1 761.6L1032.1 782.9M1032.1 782.9L1020.9 783.8M1084.9 774.9L1083.0 796.3M1083.0 796.3L1071.8 797.7M1109.8 781.5L1109.8 803.0M1109.8 803.0L1098.8 805.4M1134.6 788.1L1137.6 809.4M1137.6 809.4L1127.1 813.3M1159.5 794.7L1163.9 815.7M1163.9 815.7L1153.7 820.4M815.4 724.4L821.8 745.0M821.8 745.0L812.0 750.5M820.3 740.2L815.4 743.0M940.1 757.5L944.5 778.5M944.5 778.5L934.3 783.2M965.0 764.1L969.5 785.2M969.5 785.2L959.2 789.8M989.9 770.7L994.4 791.8M994.4 791.8L984.1 796.4M1014.8 777.4L1014.8 798.9M1014.8 798.9L1003.8 801.3M1039.7 784.0L1035.9 805.1M1035.9 805.1L1024.7 805.6M1089.4 797.2L1091.3 818.6M1091.3 818.6L1080.5 822.0M1114.3 803.8L1116.1 825.2M1116.1 825.2L1105.4 828.6M1139.1 810.4L1141.0 831.8M1141.0 831.8L1130.3 835.2M1164.0 817.0L1167.3 838.3M1167.3 838.3L1156.8 842.3M944.7 779.9L949.2 800.9M949.2 800.9L938.9 805.5M969.6 786.5L974.1 807.5M974.1 807.5L963.8 812.1M994.5 793.1L999.0 814.1M999.0 814.1L988.7 818.7M1019.4 799.7L1017.5 821.1M1017.5 821.1L1006.3 822.5M1069.1 812.9L1071.0 834.3M1071.0 834.3L1060.2 837.7M1094.0 819.5L1095.8 841.0M1095.8 841.0L1085.1 844.3M1118.8 826.1L1121.6 847.5M1121.6 847.5L1111.0 851.3M1143.6 832.8L1147.2 854.0M1147.2 854.0L1136.8 858.2M1168.5 839.4L1172.9 860.4M1172.9 860.4L1162.7 865.0M949.3 802.2L950.8 823.6M950.8 823.6L940.0 826.8M974.2 808.8L978.7 829.8M978.7 829.8L968.4 834.5M999.1 815.4L1003.6 836.5M1003.6 836.5L993.3 841.1M1048.8 828.7L1048.8 850.2M1048.8 850.2L1037.8 852.6M1073.7 835.3L1075.2 856.7M1075.2 856.7L1064.4 859.9M1074.9 851.7L1069.5 853.3M1098.5 841.9L1103.3 862.8M1103.3 862.8L1093.2 867.6M1102.2 858.0L1097.1 860.4M1123.3 848.5L1128.2 869.4M1128.2 869.4L1118.0 874.3M1148.2 855.1L1153.0 876.1M1153.0 876.1L1142.8 880.9M1173.0 861.7L1177.8 882.7M1177.8 882.7L1167.6 887.5M904.2 811.3L900.1 832.4M900.1 832.4L888.9 832.7M929.1 817.9L931.0 839.4M931.0 839.4L920.2 842.7M954.0 824.6L957.0 845.8M957.0 845.8L946.4 849.8M978.8 831.2L983.3 852.2M983.3 852.2L973.1 856.8M1003.7 837.8L1008.1 858.8M1008.1 858.8L997.8 863.4M1007.0 853.9L1001.9 856.2M1028.6 844.4L1029.7 865.9M1029.7 865.9L1018.8 868.8M1029.4 860.9L1024.0 862.4M1053.4 851.0L1057.9 872.0M1057.9 872.0L1047.6 876.7M1056.8 867.1L1051.7 869.5M1078.2 857.6L1082.1 878.8M1082.1 878.8L1071.7 883.1M1081.2 873.8L1076.0 876.0M1103.1 864.2L1107.9 885.2M1107.9 885.2L1097.7 890.0M1106.8 880.3L1101.7 882.7M1127.9 870.9L1132.7 891.8M1132.7 891.8L1122.5 896.6M1152.7 877.5L1157.5 898.4M1157.5 898.4L1147.3 903.2M1177.5 884.1L1182.3 905.0M1182.3 905.0L1172.1 909.8M884.0 827.1L885.9 848.5M885.9 848.5L875.1 851.8M908.9 833.7L905.1 854.9M905.1 854.9L893.9 855.3M933.8 840.3L935.6 861.7M935.6 861.7L924.9 865.1M958.6 846.9L963.1 867.9M963.1 867.9L952.8 872.6M983.5 853.5L987.9 874.6M987.9 874.6L977.7 879.2M1008.3 860.1L1015.7 880.3M1015.7 880.3L1006.1 886.4M1014.0 875.6L1009.2 878.7M1033.1 866.8L1039.3 887.4M1039.3 887.4L1029.4 892.8M1037.8 882.6L1032.9 885.3M1058.0 873.4L1062.6 894.4M1062.6 894.4L1052.4 899.1M1061.6 889.5L1056.4 891.8M1082.8 880.0L1087.9 900.9M1087.9 900.9L1077.7 905.8M1086.7 896.0L1081.6 898.5M1107.6 886.6L1112.4 907.5M1112.4 907.5L1102.3 912.4M1111.3 902.7L1106.2 905.1M1132.4 893.2L1137.2 914.2M1137.2 914.2L1127.1 919.0M1157.2 899.8L1162.0 920.8M1162.0 920.8L1151.9 925.6M1182.0 906.4L1186.8 927.4M1186.8 927.4L1176.7 932.2M888.7 849.4L888.7 870.9M888.7 870.9L877.7 873.3M913.6 856.0L909.8 877.2M909.8 877.2L898.6 877.7M938.4 862.7L936.5 884.1M936.5 884.1L925.4 885.5M963.3 869.3L967.7 890.3M967.7 890.3L957.5 894.9M988.1 875.9L992.6 896.9M992.6 896.9L982.3 901.6M1037.8 889.1L1045.1 909.3M1045.1 909.3L1035.6 915.3M1043.4 904.6L1038.6 907.6M1062.6 895.7L1068.9 916.3M1068.9 916.3L1059.1 921.8M1067.4 911.5L1062.5 914.3M1087.4 902.3L1093.7 922.9M1093.7 922.9L1083.8 928.4M1092.2 918.1L1087.3 920.9M1112.2 909.0L1117.0 929.9M1117.0 929.9L1106.8 934.7M1115.9 925.0L1110.8 927.4M1137.0 915.6L1141.8 936.5M1141.8 936.5L1131.6 941.3M1161.7 922.2L1166.6 943.1M1166.6 943.1L1156.4 947.9M1186.5 928.8L1191.4 949.7M1191.4 949.7L1181.2 954.6M893.4 871.8L887.8 892.6M887.8 892.6L876.6 892.0M918.2 878.4L915.6 899.8M915.6 899.8L904.4 900.8M943.1 885.0L940.5 906.4M940.5 906.4L929.2 907.4M967.9 891.6L972.4 912.7M972.4 912.7L962.1 917.3M992.7 898.3L997.2 919.3M997.2 919.3L986.9 923.9M1017.6 904.9L1022.4 925.8M1022.4 925.8L1012.2 930.6M1021.2 921.0L1016.2 923.4M1042.4 911.5L1048.9 932.0M1048.9 932.0L1039.2 937.6M1047.4 927.2L1042.5 930.0M1067.2 918.1L1073.0 938.8M1073.0 938.8L1063.1 944.1M1071.7 934.0L1066.7 936.6M1092.0 924.7L1097.3 945.5M1097.3 945.5L1087.2 950.6M1096.1 940.7L1091.0 943.2M1116.7 931.3L1121.6 952.3M1121.6 952.3L1111.4 957.1M1120.5 947.4L1115.4 949.8M1141.5 937.9L1146.4 958.9M1146.4 958.9L1136.2 963.7M1166.3 944.6L1171.1 965.5M1171.1 965.5L1160.9 970.3M1191.1 951.2L1195.9 972.1M1195.9 972.1L1185.7 976.9M1022.2 927.2L1027.1 948.2M1027.1 948.2L1016.9 953.0M1025.9 943.3L1020.8 945.7M1047.0 933.9L1052.6 954.6M1052.6 954.6L1042.7 959.8M1051.3 949.8L1046.3 952.4M1071.8 940.5L1077.4 961.2M1077.4 961.2L1067.4 966.4M1076.1 956.4L1071.1 959.0M1096.5 947.1L1101.6 968.0M1101.6 968.0L1091.4 972.9M1100.4 963.1L1095.3 965.6M1121.3 953.7L1126.2 974.6M1126.2 974.6L1116.0 979.5M1125.0 969.8L1119.9 972.2M1146.1 960.3L1150.9 981.3M1150.9 981.3L1140.7 986.1M1170.8 966.9L1175.7 987.9M1175.7 987.9L1165.5 992.7M927.6 923.2L931.0 944.4M931.0 944.4L920.6 948.5M1026.8 949.6L1033.4 970.1M1033.4 970.1L1023.7 975.7M1031.9 965.3L1027.0 968.2M1051.6 956.2L1058.5 976.6M1058.5 976.6L1048.8 982.4M1056.9 971.9L1052.1 974.8M1076.4 962.9L1083.6 983.1M1083.6 983.1L1074.1 989.1M1082.0 978.4L1077.2 981.4M1101.1 969.5L1106.5 990.3M1106.5 990.3L1096.4 995.3M1105.2 985.4L1100.2 988.0M1125.9 976.1L1130.7 997.0M1130.7 997.0L1120.6 1001.8M1129.6 992.2L1124.5 994.6M1150.7 982.7L1155.5 1003.6M1155.5 1003.6L1145.3 1008.5M1175.4 989.3L1180.2 1010.3M1180.2 1010.3L1170.1 1015.1M1200.1 995.9L1205.0 1016.9M1205.0 1016.9L1194.8 1021.7M857.8 925.7L858.6 947.2M858.6 947.2L847.7 950.0M858.4 942.2L853.0 943.6M907.5 938.9L913.0 959.7M913.0 959.7L903.0 964.9M911.7 954.9L906.7 957.5M1006.7 965.4L1014.7 985.3M1014.7 985.3L1005.4 991.7M1012.8 980.7L1008.2 983.9M1031.4 972.0L1039.0 992.1M1039.0 992.1L1029.6 998.2M1037.3 987.4L1032.5 990.5M1056.2 978.6L1064.0 998.7M1064.0 998.7L1054.6 1004.9M1062.2 994.0L1057.5 997.1M1081.0 985.2L1089.0 1005.2M1089.0 1005.2L1079.7 1011.5M1087.2 1000.5L1082.5 1003.7M1105.7 991.8L1111.9 1012.4M1111.9 1012.4L1102.0 1017.9M1110.5 1007.7L1105.5 1010.4M1130.5 998.5L1135.3 1019.4M1135.3 1019.4L1125.1 1024.2M1134.2 1014.5L1129.1 1016.9M1155.2 1005.1L1160.1 1026.0M1160.1 1026.0L1149.9 1030.8M1180.0 1011.7L1184.8 1032.6M1184.8 1032.6L1174.6 1037.5M1204.7 1018.3L1209.5 1039.3M1209.5 1039.3L1199.4 1044.1M812.9 934.9L797.7 950.1M797.7 950.1L788.2 944.0M1011.3 987.8L1018.6 1008.0M1018.6 1008.0L1009.0 1014.0M1016.9 1003.3L1012.1 1006.3M1036.1 994.4L1043.3 1014.7M1043.3 1014.7L1033.7 1020.6M1041.6 1009.9L1036.8 1012.9M1060.8 1001.0L1068.9 1020.9M1068.9 1020.9L1059.6 1027.3M1067.0 1016.3L1062.4 1019.5M1085.6 1007.6L1093.0 1027.8M1093.0 1027.8L1083.6 1033.9M1091.3 1023.1L1086.6 1026.1M1110.3 1014.2L1116.7 1034.8M1116.7 1034.8L1106.9 1040.3M1115.2 1030.0L1110.3 1032.8M1135.1 1020.9L1139.9 1041.8M1139.9 1041.8L1129.7 1046.6M1138.8 1036.9L1133.7 1039.3M1159.8 1027.5L1164.7 1048.4M1164.7 1048.4L1154.5 1053.2M1184.6 1034.1L1189.4 1055.0M1189.4 1055.0L1179.2 1059.8M1209.3 1040.7L1214.1 1061.6M1214.1 1061.6L1203.9 1066.5M768.0 944.0L760.7 964.2M760.7 964.2L749.5 962.7M762.4 959.5L756.8 958.8M792.9 950.6L783.8 970.1M783.8 970.1L772.8 967.7M785.9 965.6L780.4 964.4M1016.0 1010.2L1022.4 1030.7M1022.4 1030.7L1012.7 1036.3M1020.9 1025.9L1016.1 1028.7M1040.7 1016.8L1047.4 1037.2M1047.4 1037.2L1037.7 1042.9M1045.8 1032.5L1041.0 1035.3M1065.5 1023.4L1072.3 1043.8M1072.3 1043.8L1062.6 1049.6M1070.7 1039.0L1065.9 1041.9M1090.2 1030.0L1097.2 1050.3M1097.2 1050.3L1087.6 1056.2M1095.6 1045.6L1090.8 1048.5M1115.0 1036.6L1122.1 1056.9M1122.1 1056.9L1112.6 1062.8M1120.5 1052.2L1115.7 1055.2M1139.7 1043.2L1147.0 1063.4M1147.0 1063.4L1137.5 1069.5M1145.3 1058.7L1140.6 1061.8M1164.4 1049.9L1171.9 1070.0M1171.9 1070.0L1162.5 1076.1M1189.1 1056.5L1196.8 1076.5M1196.8 1076.5L1187.4 1082.7M1213.8 1063.1L1221.7 1083.1M1221.7 1083.1L1212.4 1089.4M748.0 959.8L742.4 980.6M742.4 980.6L731.2 980.1M743.7 975.8L738.1 975.5M772.8 966.4L759.0 982.9M759.0 982.9L749.0 977.7M797.6 973.0L795.8 994.5M795.8 994.5L784.6 995.9M796.2 989.5L790.6 990.2M1020.6 1032.6L1027.4 1053.0M1027.4 1053.0L1017.8 1058.7M1025.9 1048.2L1021.0 1051.1M1045.4 1039.2L1052.4 1059.5M1052.4 1059.5L1042.7 1065.4M1050.7 1054.8L1045.9 1057.7M1070.1 1045.8L1077.3 1066.1M1077.3 1066.1L1067.7 1072.0M1075.6 1061.4L1070.8 1064.3M1094.9 1052.4L1102.2 1072.6M1102.2 1072.6L1092.7 1078.6M1100.5 1067.9L1095.7 1070.9M1119.6 1059.0L1127.1 1079.2M1127.1 1079.2L1117.6 1085.3M1125.3 1074.5L1120.6 1077.5M1144.3 1065.6L1152.0 1085.7M1152.0 1085.7L1142.6 1091.9M1150.2 1081.1L1145.5 1084.1M1169.0 1072.3L1176.9 1092.3M1176.9 1092.3L1167.5 1098.5M1193.7 1078.9L1201.7 1098.8M1201.7 1098.8L1192.4 1105.1M1218.4 1085.5L1226.6 1105.4M1226.6 1105.4L1217.4 1111.8M752.8 982.2L743.7 1001.7M743.7 1001.7L732.7 999.2M777.6 988.8L783.2 1009.6M783.2 1009.6L773.2 1014.8M781.9 1004.8L776.9 1007.4M1025.3 1055.0L1032.4 1075.3M1032.4 1075.3L1022.8 1081.2M1030.8 1070.5L1026.0 1073.5M1050.1 1061.6L1057.3 1081.8M1057.3 1081.8L1047.8 1087.8M1055.6 1077.1L1050.9 1080.1M1074.8 1068.2L1082.2 1088.4M1082.2 1088.4L1072.8 1094.4M1080.5 1083.7L1075.8 1086.7M1099.5 1074.8L1107.1 1094.9M1107.1 1094.9L1097.7 1101.1M1105.4 1090.2L1100.6 1093.3M1124.2 1081.4L1132.0 1101.5M1132.0 1101.5L1122.7 1107.7M1130.2 1096.8L1125.5 1099.9M1148.9 1088.0L1156.9 1108.0M1156.9 1108.0L1147.6 1114.3M1155.1 1103.4L1150.4 1106.5M1173.6 1094.7L1181.8 1114.6M1181.8 1114.6L1172.5 1120.9M1198.3 1101.3L1206.7 1121.1M1206.7 1121.1L1197.5 1127.6M1223.0 1107.9L1231.5 1127.6M1231.5 1127.6L1222.4 1134.2M807.2 1017.9L813.4 1038.5M813.4 1038.5L803.5 1043.9M811.9 1033.7L807.0 1036.4M1030.0 1077.4L1037.4 1097.6M1037.4 1097.6L1027.9 1103.6M1035.7 1092.9L1030.9 1095.9M1054.7 1084.0L1062.3 1104.1M1062.3 1104.1L1052.9 1110.2M1060.6 1099.4L1055.8 1102.5M1079.4 1090.6L1087.2 1110.7M1087.2 1110.7L1077.8 1116.9M1085.4 1106.0L1080.7 1109.1M1104.2 1097.2L1112.1 1117.2M1112.1 1117.2L1102.8 1123.5M1110.3 1112.6L1105.6 1115.7M1128.9 1103.8L1137.0 1123.7M1137.0 1123.7L1127.7 1130.1M1135.1 1119.1L1130.5 1122.3M1153.6 1110.5L1161.9 1130.3M1161.9 1130.3L1152.6 1136.7M1159.9 1125.7L1155.3 1128.9M1178.3 1117.1L1186.7 1136.8M1186.7 1136.8L1177.6 1143.4M1202.9 1123.7L1211.6 1143.4M1211.6 1143.4L1202.5 1150.0M1227.6 1130.3L1236.4 1149.9M1236.4 1149.9L1227.4 1156.6M1034.7 1099.8L1042.4 1119.9M1042.4 1119.9L1033.0 1126.1M1040.6 1115.2L1035.9 1118.3M1059.4 1106.4L1067.3 1126.4M1067.3 1126.4L1058.0 1132.7M1065.5 1121.8L1060.8 1124.9M1084.1 1113.0L1092.2 1132.9M1092.2 1132.9L1082.9 1139.3M1090.3 1128.3L1085.7 1131.5M1108.8 1119.6L1117.1 1139.5M1117.1 1139.5L1107.8 1145.9M1115.1 1134.9L1110.5 1138.1M1133.5 1126.3L1141.9 1146.0M1141.9 1146.0L1132.8 1152.6M1158.2 1132.9L1166.8 1152.6M1166.8 1152.6L1157.7 1159.2M1182.9 1139.5L1191.7 1159.1M1191.7 1159.1L1182.6 1165.8M1207.6 1146.1L1216.5 1165.6M1216.5 1165.6L1207.5 1172.4M965.2 1102.4L972.8 1122.5M972.8 1122.5L963.3 1128.6M971.0 1117.8L966.3 1120.9M989.9 1109.0L997.7 1129.1M997.7 1129.1L988.2 1135.2M995.9 1124.4L991.2 1127.5M1014.7 1115.6L1022.5 1135.6M1022.5 1135.6L1013.2 1141.9M1020.7 1131.0L1016.0 1134.1M1039.4 1122.2L1047.4 1142.2M1047.4 1142.2L1038.1 1148.5M1045.6 1137.5L1040.9 1140.7M1064.1 1128.8L1072.3 1148.7M1072.3 1148.7L1063.1 1155.1M1070.4 1144.1L1065.8 1147.3M1088.8 1135.4L1097.2 1155.2M1097.2 1155.2L1088.0 1161.7M1095.2 1150.6L1090.6 1153.9M1113.5 1142.1L1122.0 1161.8M1122.0 1161.8L1112.9 1168.4M1120.1 1157.2L1115.5 1160.5M1138.2 1148.7L1146.9 1168.3M1146.9 1168.3L1137.8 1175.0M1162.8 1155.3L1171.8 1174.9M1171.8 1174.9L1162.7 1181.6M1187.5 1161.9L1196.6 1181.4M1196.6 1181.4L1187.7 1188.2M1212.2 1168.5L1221.5 1187.9M1221.5 1187.9L1212.6 1194.8M920.5 1111.6L928.0 1131.7M928.0 1131.7L918.5 1137.8M926.3 1127.0L921.5 1130.1M945.2 1118.2L952.9 1138.3M952.9 1138.3L943.5 1144.4M951.1 1133.6L946.4 1136.7M969.9 1124.8L977.8 1144.8M977.8 1144.8L968.4 1151.1M976.0 1140.2L971.3 1143.3M994.7 1131.4L1002.7 1151.4M1002.7 1151.4L993.4 1157.7M1000.8 1146.7L996.2 1149.9M1019.4 1138.0L1027.6 1157.9M1027.6 1157.9L1018.3 1164.3M1025.7 1153.3L1021.0 1156.5M1044.1 1144.6L1052.4 1164.4M1052.4 1164.4L1043.2 1170.9M1050.5 1159.8L1045.9 1163.1M1068.8 1151.3L1077.3 1171.0M1077.3 1171.0L1068.2 1177.6M1075.3 1166.4L1070.7 1169.7M1093.5 1157.9L1102.2 1177.5M1102.2 1177.5L1093.1 1184.2M1100.1 1173.0L1095.6 1176.3M1118.1 1164.5L1127.0 1184.1M1127.0 1184.1L1118.0 1190.8M1125.0 1179.5L1120.4 1182.9M1142.8 1171.1L1151.9 1190.6M1151.9 1190.6L1142.9 1197.4M1167.5 1177.7L1176.7 1197.1M1176.7 1197.1L1167.8 1204.0M1192.2 1184.3L1201.6 1203.7M1201.6 1203.7L1192.7 1210.6M1216.8 1190.9L1226.4 1210.2M1226.4 1210.2L1217.6 1217.2M875.8 1120.8L883.3 1140.9M883.3 1140.9L873.8 1147.0M881.5 1136.2L876.8 1139.3M900.5 1127.4L908.2 1147.5M908.2 1147.5L898.7 1153.6M906.4 1142.8L901.7 1145.9M925.3 1134.0L933.1 1154.0M933.1 1154.0L923.7 1160.3M931.2 1149.4L926.6 1152.5M950.0 1140.6L958.0 1160.6M958.0 1160.6L948.6 1166.9M956.1 1155.9L951.4 1159.1M974.7 1147.2L982.8 1167.1M982.8 1167.1L973.6 1173.5M980.9 1162.5L976.3 1165.7M999.4 1153.8L1007.7 1173.7M1007.7 1173.7L998.5 1180.1M1005.8 1169.1L1001.2 1172.3M1024.1 1160.5L1032.6 1180.2M1032.6 1180.2L1023.4 1186.8M1030.6 1175.6L1026.0 1178.9M1048.8 1167.1L1057.5 1186.7M1057.5 1186.7L1048.4 1193.4M1055.4 1182.2L1050.9 1185.5M1073.5 1173.7L1082.3 1193.3M1082.3 1193.3L1073.3 1200.0M1080.3 1188.7L1075.7 1192.1M1098.1 1180.3L1107.2 1199.8M1107.2 1199.8L1098.2 1206.6M1105.1 1195.3L1100.6 1198.7M1122.8 1186.9L1132.0 1206.4M1132.0 1206.4L1123.1 1213.2M1129.9 1201.8L1125.4 1205.3M1147.5 1193.5L1156.9 1212.9M1156.9 1212.9L1148.0 1219.8M1172.2 1200.1L1181.7 1219.4M1181.7 1219.4L1172.9 1226.4M1196.8 1206.8L1206.5 1225.9M1206.5 1225.9L1197.8 1233.0M1221.5 1213.4L1231.3 1232.5M1231.3 1232.5L1222.7 1239.7M855.9 1136.6L863.6 1156.6M863.6 1156.6L854.2 1162.9M861.8 1152.0L857.1 1155.1M880.6 1143.2L888.4 1163.3M888.4 1163.3L879.0 1169.5M886.6 1158.6L881.9 1161.7M905.3 1149.8L913.3 1169.8M913.3 1169.8L903.9 1176.1M911.4 1165.2L906.7 1168.3M930.0 1156.4L938.1 1176.3M938.1 1176.3L928.9 1182.7M936.2 1171.7L931.6 1174.9M954.7 1163.0L963.0 1182.9M963.0 1182.9L953.8 1189.3M961.1 1178.3L956.5 1181.5M979.4 1169.7L987.9 1189.4M987.9 1189.4L978.7 1196.0M985.9 1184.8L981.3 1188.1M1004.1 1176.3L1012.8 1196.0M1012.8 1196.0L1003.6 1202.6M1010.7 1191.4L1006.2 1194.7M1028.8 1182.9L1037.6 1202.5M1037.6 1202.5L1028.6 1209.2M1035.6 1197.9L1031.0 1201.3M1053.5 1189.5L1062.5 1209.0M1062.5 1209.0L1053.5 1215.8M1060.4 1204.5L1055.9 1207.9M1078.2 1196.1L1087.3 1215.6M1087.3 1215.6L1078.4 1222.4M1085.2 1211.0L1080.7 1214.5M1102.8 1202.7L1112.2 1222.1M1112.2 1222.1L1103.3 1229.0M1110.0 1217.6L1105.6 1221.1M1127.5 1209.3L1137.0 1228.6M1137.0 1228.6L1128.2 1235.6M1134.8 1224.2L1130.4 1227.7M1152.2 1216.0L1161.8 1235.2M1161.8 1235.2L1153.1 1242.3M1176.8 1222.6L1186.7 1241.7M1186.7 1241.7L1178.0 1248.9M1201.5 1229.2L1211.5 1248.2M1211.5 1248.2L1202.9 1255.5M1226.1 1235.8L1236.3 1254.8M1236.3 1254.8L1227.7 1262.1M786.5 1139.2L794.6 1159.1M794.6 1159.1L785.3 1165.5M792.7 1154.5L788.0 1157.7M860.6 1159.0L868.7 1179.0M868.7 1179.0L859.4 1185.3M866.9 1174.3L862.2 1177.5M885.4 1165.6L893.5 1185.6M893.5 1185.6L884.2 1191.9M891.6 1180.9L886.9 1184.1M910.1 1172.3L918.3 1192.1M918.3 1192.1L909.1 1198.6M916.4 1187.5L911.8 1190.7M934.8 1178.9L943.2 1198.7M943.2 1198.7L934.0 1205.2M941.2 1194.1L936.7 1197.3M959.5 1185.5L968.1 1205.2M968.1 1205.2L959.0 1211.8M966.1 1200.6L961.5 1203.9M984.2 1192.1L992.9 1211.7M992.9 1211.7L983.9 1218.4M990.9 1207.2L986.4 1210.5M1008.8 1198.7L1017.8 1218.3M1017.8 1218.3L1008.8 1225.0M1015.7 1213.7L1011.2 1217.1M1033.5 1205.3L1042.6 1224.8M1042.6 1224.8L1033.7 1231.6M1040.5 1220.3L1036.1 1223.7M1058.2 1211.9L1067.5 1231.3M1067.5 1231.3L1058.6 1238.3M1065.3 1226.8L1060.9 1230.3M1082.9 1218.6L1092.3 1237.9M1092.3 1237.9L1083.5 1244.9M1090.1 1233.4L1085.7 1236.9M1107.5 1225.2L1117.2 1244.4M1117.2 1244.4L1108.4 1251.5M1114.9 1239.9L1110.6 1243.5M1132.2 1231.8L1142.0 1250.9M1142.0 1250.9L1133.3 1258.1M1139.7 1246.5L1135.4 1250.0M1156.9 1238.4L1166.8 1257.5M1166.8 1257.5L1158.2 1264.7M1181.5 1245.0L1191.6 1264.0M1191.6 1264.0L1183.1 1271.3M791.3 1161.6L799.7 1181.4M799.7 1181.4L790.5 1187.9M797.7 1176.8L793.2 1180.1M840.7 1174.9L849.1 1194.7M849.1 1194.7L839.9 1201.2M847.2 1190.1L842.6 1193.3M865.4 1181.5L873.8 1201.3M873.8 1201.3L864.7 1207.8M871.9 1196.7L867.3 1199.9M890.1 1188.1L898.5 1207.9M898.5 1207.9L889.4 1214.4M896.6 1203.3L892.0 1206.5M914.8 1194.7L923.4 1214.4M923.4 1214.4L914.3 1221.0M921.4 1209.8L916.9 1213.1M939.5 1201.3L948.3 1221.0M948.3 1221.0L939.2 1227.6M946.2 1216.4L941.7 1219.7M964.2 1207.9L973.1 1227.5M973.1 1227.5L964.1 1234.2M971.1 1222.9L966.6 1226.3M988.9 1214.5L998.0 1234.0M998.0 1234.0L989.0 1240.9M995.9 1229.5L991.4 1232.9M1013.6 1221.2L1022.8 1240.6M1022.8 1240.6L1014.0 1247.5M1020.7 1236.1L1016.2 1239.5M1038.3 1227.8L1047.7 1247.1M1047.7 1247.1L1038.9 1254.1M1045.5 1242.6L1041.1 1246.1M1062.9 1234.4L1072.5 1253.6M1072.5 1253.6L1063.8 1260.7M1070.3 1249.2L1065.9 1252.7M1087.6 1241.0L1097.4 1260.2M1097.4 1260.2L1088.6 1267.3M1095.1 1255.7L1090.7 1259.3M1112.3 1247.6L1122.2 1266.7M1122.2 1266.7L1113.5 1273.9M1119.9 1262.3L1115.6 1265.9M796.1 1184.1L804.8 1203.7M804.8 1203.7L795.7 1210.4M802.8 1199.2L798.3 1202.5M820.8 1190.7L829.5 1210.4M829.5 1210.4L820.5 1217.0M827.5 1205.8L823.0 1209.1M845.5 1197.3L854.2 1217.0M854.2 1217.0L845.2 1223.6M852.2 1212.4L847.7 1215.7M870.2 1203.9L879.0 1223.6M879.0 1223.6L869.9 1230.2M876.9 1219.0L872.4 1222.3M894.9 1210.5L903.6 1230.2M903.6 1230.2L894.6 1236.8M901.6 1225.6L897.1 1229.0M919.6 1217.2L928.5 1236.7M928.5 1236.7L919.5 1243.5M926.4 1232.2L921.9 1235.5M944.3 1223.8L953.4 1243.3M953.4 1243.3L944.4 1250.1M951.3 1238.7L946.8 1242.1M969.0 1230.4L978.2 1249.8M978.2 1249.8L969.3 1256.7M976.1 1245.3L971.6 1248.7M993.7 1237.0L1003.1 1256.3M1003.1 1256.3L994.2 1263.3M1000.9 1251.8L996.5 1255.3M1018.3 1243.6L1027.9 1262.9M1027.9 1262.9L1019.1 1269.9M1025.7 1258.4L1021.3 1261.9M801.0 1206.5L810.0 1226.1M810.0 1226.1L801.0 1232.8M807.9 1221.5L803.4 1224.9M825.7 1213.2L834.7 1232.7M834.7 1232.7L825.7 1239.5M832.6 1228.1L828.1 1231.5M850.3 1219.8L859.4 1239.3M859.4 1239.3L850.4 1246.1M857.3 1234.7L852.8 1238.1M875.0 1226.4L884.1 1245.9M884.1 1245.9L875.1 1252.7M882.0 1241.4L877.5 1244.8M899.7 1233.0L908.7 1252.5M908.7 1252.5L899.8 1259.3M906.6 1248.0L902.2 1251.4M924.4 1239.6L933.6 1259.0M933.6 1259.0L924.7 1265.9M931.5 1254.5L927.0 1258.0M949.1 1246.2L958.4 1265.6M958.4 1265.6L949.6 1272.5M956.3 1261.1L951.8 1264.6M805.8 1229.0L815.1 1248.4M815.1 1248.4L806.2 1255.3M812.9 1243.9L808.5 1247.3M830.5 1235.6L839.8 1255.0M839.8 1255.0L830.9 1261.9M837.6 1250.5L833.2 1253.9M855.2 1242.2L864.5 1261.6M864.5 1261.6L855.6 1268.5M862.3 1257.1L857.9 1260.6M879.8 1248.8L889.2 1268.2M889.2 1268.2L880.3 1275.1M887.0 1263.7L882.6 1267.2"/>
<path stroke="#00bfff" d="M1023.8 589.7L1045.2 592.0M1045.2 592.0L1046.4 603.2M1048.8 596.3L1068.4 587.6M1068.4 587.6L1075.1 596.7M1123.8 616.2L1144.0 608.8M1144.0 608.8L1150.0 618.3M1053.3 618.6L1072.9 609.9M1072.9 609.9L1079.6 619.0M1078.3 625.2L1099.6 622.3M1099.6 622.3L1103.5 632.8M1103.3 631.9L1124.7 631.1M1124.7 631.1L1127.5 642.0M1128.2 638.5L1148.4 631.1M1148.4 631.1L1154.4 640.6M1107.7 654.2L1125.3 641.8M1125.3 641.8L1133.6 649.5M962.4 636.8L983.8 637.9M983.8 637.9L985.7 649.0M987.4 643.4L1008.2 638.2M1008.2 638.2L1013.2 648.3M966.9 659.1L987.7 664.7M987.7 664.7L987.2 675.9M991.9 665.7L1013.4 666.5M1013.4 666.5L1015.4 677.5M1016.9 672.3L1037.5 666.0M1037.5 666.0L1043.0 675.9M1041.9 678.9L1050.6 659.3M1050.6 659.3L1061.6 661.6M971.5 681.4L989.1 693.7M989.1 693.7L984.8 704.1M996.5 688.0L1017.3 693.6M1010.0 691.7L1009.8 697.3M1021.4 694.6L1042.9 695.4M1035.4 695.1L1036.4 700.7M1046.4 701.3L1047.1 722.7M1046.9 715.2L1041.4 716.6M1071.3 707.9L1071.3 729.4M1071.3 721.9L1065.8 723.1M1096.2 714.5L1100.0 735.7M1100.0 735.7L1089.6 739.9M1001.1 710.4L1004.8 731.5M1004.8 731.5L994.4 735.8M1026.0 717.0L1022.3 738.1M1022.3 738.1L1011.0 738.6M1050.9 723.6L1049.0 745.0M1049.0 745.0L1037.9 746.4M1075.8 730.2L1074.0 751.6M1074.6 744.1L1069.0 744.9M1100.7 736.8L1101.5 758.3M1101.5 758.3L1090.6 761.1M1080.4 752.5L1074.8 773.3M1074.8 773.3L1063.5 772.8M1060.0 768.2L1043.5 782.1M1043.5 782.1L1034.6 775.2M1064.5 790.6L1052.2 808.2M1052.2 808.2L1041.8 803.8M1044.2 806.3L1033.5 824.9M1033.5 824.9L1022.8 821.5M1024.0 822.0L1018.4 842.8M1018.4 842.8L1007.1 842.3M1195.6 973.5L1200.4 994.5M1200.4 994.5L1190.3 999.3"/>
<path stroke="#555555" d="M86.3 1189.8L107.7 1191.5M100.3 1190.9L101.0 1196.5M92.0 1211.6L113.2 1215.0M105.8 1213.8L106.2 1219.4"/>
</g>
<rect x="83.5" y="128.5" width="1114.9" height="1094.8" fill="none" stroke="#000" stroke-width="1.2"/>
<text transform="translate(144.80 114.96) scale(0.96 1)" font-family="'DejaVu Sans','Liberation Sans',sans-serif" font-size="17.8" text-anchor="middle">157.5°W</text>
<text transform="translate(144.80 1247.9) scale(0.96 1)" font-family="'DejaVu Sans','Liberation Sans',sans-serif" font-size="17.8" text-anchor="middle">157.5°W</text>
<text transform="translate(296.80 114.96) scale(0.96 1)" font-family="'DejaVu Sans','Liberation Sans',sans-serif" font-size="17.8" text-anchor="middle">156°W</text>
<text transform="translate(296.80 1247.9) scale(0.96 1)" font-family="'DejaVu Sans','Liberation Sans',sans-serif" font-size="17.8" text-anchor="middle">156°W</text>
<text transform="translate(448.80 114.96) scale(0.96 1)" font-family="'DejaVu Sans','Liberation Sans',sans-serif" font-size="17.8" text-anchor="middle">154.5°W</text>
<text transform="translate(448.80 1247.9) scale(0.96 1)" font-family="'DejaVu Sans','Liberation Sans',sans-serif" font-size="17.8" text-anchor="middle">154.5°W</text>
<text transform="translate(600.80 114.96) scale(0.96 1)" font-family="'DejaVu Sans','Liberation Sans',sans-serif" font-size="17.8" text-anchor="middle">153°W</text>
<text transform="translate(600.80 1247.9) scale(0.96 1)" font-family="'DejaVu Sans','Liberation Sans',sans-serif" font-size="17.8" text-anchor="middle">153°W</text>
<text transform="translate(752.80 114.96) scale(0.96 1)" font-family="'DejaVu Sans','Liberation Sans',sans-serif" font-size="17.8" text-anchor="middle">151.5°W</text>
<text transform="translate(752.80 1247.9) scale(0.96 1)" font-family="'DejaVu Sans','Liberation Sans',sans-serif" font-size="17.8" text-anchor="middle">151.5°W</text>
<text transform="translate(904.80 114.96) scale(0.96 1)" font-family="'DejaVu Sans','Liberation Sans',sans-serif" font-size="17.8" text-anchor="middle">150°W</text>
<text transform="translate(904.80 1247.9) scale(0.96 1)" font-family="'DejaVu Sans','Liberation Sans',sans-serif" font-size="17.8" text-anchor="middle">150°W</text>
<text transform="translate(1056.80 114.96) scale(0.96 1)" font-family="'DejaVu Sans','Liberation Sans',sans-serif" font-size="17.8" text-anchor="middle">148.5°W</text>
<text transform="translate(1056.80 1247.9) scale(0.96 1)" font-family="'DejaVu Sans','Liberation Sans',sans-serif" font-size="17.8" text-anchor="middle">148.5°W</text>
<text transform="translate(72.3 255.90) scale(0.96 1)" font-family="'DejaVu Sans','Liberation Sans',sans-serif" font-size="17.8" text-anchor="end">15°N</text>
<text transform="translate(1209.4 255.90) scale(0.96 1)" font-family="'DejaVu Sans','Liberation Sans',sans-serif" font-size="17.8">15°N</text>
<text transform="translate(72.3 407.90) scale(0.96 1)" font-family="'DejaVu Sans','Liberation Sans',sans-serif" font-size="17.8" text-anchor="end">13.5°N</text>
<text transform="translate(1209.4 407.90) scale(0.96 1)" font-family="'DejaVu Sans','Liberation Sans',sans-serif" font-size="17.8">13.5°N</text>
<text transform="translate(72.3 559.90) scale(0.96 1)" font-family="'DejaVu Sans','Liberation Sans',sans-serif" font-size="17.8" text-anchor="end">12°N</text>
<text transform="translate(1209.4 559.90) scale(0.96 1)" font-family="'DejaVu Sans','Liberation Sans',sans-serif" font-size="17.8">12°N</text>
<text transform="translate(72.3 711.90) scale(0.96 1)" font-family="'DejaVu Sans','Liberation Sans',sans-serif" font-size="17.8" text-anchor="end">10.5°N</text>
<text transform="translate(1209.4 711.90) scale(0.96 1)" font-family="'DejaVu Sans','Liberation Sans',sans-serif" font-size="17.8">10.5°N</text>
<text transform="translate(72.3 863.90) scale(0.96 1)" font-family="'DejaVu Sans','Liberation Sans',sans-serif" font-size="17.8" text-anchor="end">9°N</text>
<text transform="translate(1209.4 863.90) scale(0.96 1)" font-family="'DejaVu Sans','Liberation Sans',sans-serif" font-size="17.8">9°N</text>
<text transform="translate(72.3 1015.90) scale(0.96 1)" font-family="'DejaVu Sans','Liberation Sans',sans-serif" font-size="17.8" text-anchor="end">7.5°N</text>
<text transform="translate(1209.4 1015.90) scale(0.96 1)" font-family="'DejaVu Sans','Liberation Sans',sans-serif" font-size="17.8">7.5°N</text>
<text transform="translate(72.3 1167.90) scale(0.96 1)" font-family="'DejaVu Sans','Liberation Sans',sans-serif" font-size="17.8" text-anchor="end">6°N</text>
<text transform="translate(1209.4 1167.90) scale(0.96 1)" font-family="'DejaVu Sans','Liberation Sans',sans-serif" font-size="17.8">6°N</text>
<rect x="1306.0" y="1123.47" width="36.799999999999955" height="99.83" fill="#555555"/>
<rect x="1306.0" y="1023.95" width="36.799999999999955" height="99.83" fill="#00bfff"/>
<rect x="1306.0" y="924.42" width="36.799999999999955" height="99.83" fill="#0033ff"/>
<rect x="1306.0" y="824.89" width="36.799999999999955" height="99.83" fill="#009000"/>
<rect x="1306.0" y="725.36" width="36.799999999999955" height="99.83" fill="#ffd20a"/>
<rect x="1306.0" y="625.84" width="36.799999999999955" height="99.83" fill="#ff8c0a"/>
<rect x="1306.0" y="526.31" width="36.799999999999955" height="99.83" fill="#ff1010"/>
<rect x="1306.0" y="426.78" width="36.799999999999955" height="99.83" fill="#7f3f2a"/>
<rect x="1306.0" y="327.25" width="36.799999999999955" height="99.83" fill="#f000f0"/>
<rect x="1306.0" y="227.73" width="36.799999999999955" height="99.83" fill="#8000b0"/>
<rect x="1306.0" y="128.20" width="36.799999999999955" height="99.83" fill="#300060"/>
<rect x="1306.0" y="128.2" width="36.799999999999955" height="1094.8" fill="none" stroke="#000" stroke-width="1.2"/>
<text transform="translate(1354.8 1229.60) scale(0.97 1)" font-family="'DejaVu Sans','Liberation Sans',sans-serif" font-size="18.1">0</text>
<text transform="translate(1354.8 1130.07) scale(0.97 1)" font-family="'DejaVu Sans','Liberation Sans',sans-serif" font-size="18.1">5</text>
<text transform="translate(1354.8 1030.55) scale(0.97 1)" font-family="'DejaVu Sans','Liberation Sans',sans-serif" font-size="18.1">10</text>
<text transform="translate(1354.8 931.02) scale(0.97 1)" font-family="'DejaVu Sans','Liberation Sans',sans-serif" font-size="18.1">15</text>
<text transform="translate(1354.8 831.49) scale(0.97 1)" font-family="'DejaVu Sans','Liberation Sans',sans-serif" font-size="18.1">20</text>
<text transform="translate(1354.8 731.96) scale(0.97 1)" font-family="'DejaVu Sans','Liberation Sans',sans-serif" font-size="18.1">25</text>
<text transform="translate(1354.8 632.44) scale(0.97 1)" font-family="'DejaVu Sans','Liberation Sans',sans-serif" font-size="18.1">30</text>
<text transform="translate(1354.8 532.91) scale(0.97 1)" font-family="'DejaVu Sans','Liberation Sans',sans-serif" font-size="18.1">35</text>
<text transform="translate(1354.8 433.38) scale(0.97 1)" font-family="'DejaVu Sans','Liberation Sans',sans-serif" font-size="18.1">40</text>
<text transform="translate(1354.8 333.85) scale(0.97 1)" font-family="'DejaVu Sans','Liberation Sans',sans-serif" font-size="18.1">45</text>
<text transform="translate(1354.8 234.33) scale(0.97 1)" font-family="'DejaVu Sans','Liberation Sans',sans-serif" font-size="18.1">50</text>
<path d="M1342.8 1223.00h5.5M1342.8 1123.47h5.5M1342.8 1023.95h5.5M1342.8 924.42h5.5M1342.8 824.89h5.5M1342.8 725.36h5.5M1342.8 625.84h5.5M1342.8 526.31h5.5M1342.8 426.78h5.5M1342.8 327.25h5.5M1342.8 227.73h5.5M1342.8 128.60h3" stroke="#000" stroke-width="1.1"/>
<text transform="translate(1423.9 677.7) rotate(-90) scale(0.971 1)" font-family="'DejaVu Sans','Liberation Sans',sans-serif" font-size="28.6" text-anchor="middle">Wind Speed (knots)</text>
</svg>
</body></html>
